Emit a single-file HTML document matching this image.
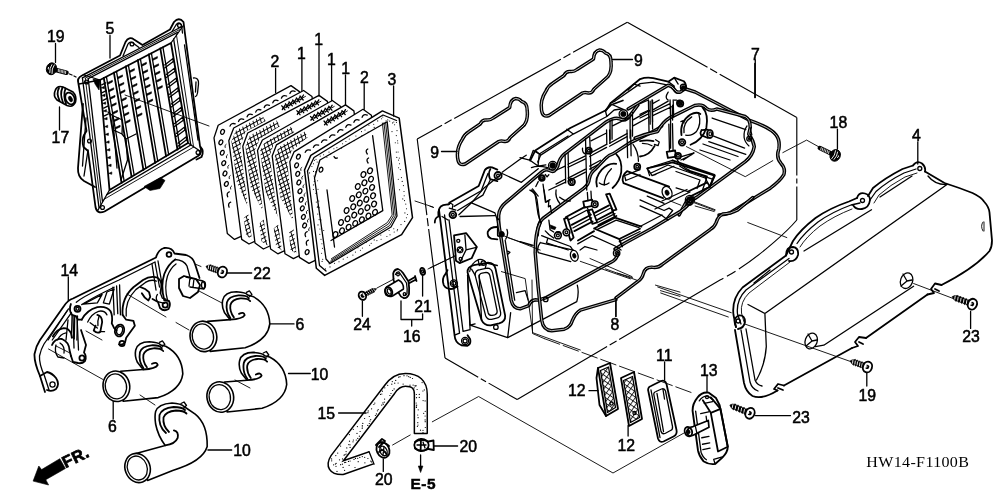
<!DOCTYPE html>
<html><head><meta charset="utf-8"><title>Air cleaner parts diagram</title>
<style>
html,body{margin:0;padding:0;background:#fff;}
body{width:1000px;height:499px;overflow:hidden;}
svg{display:block;will-change:transform}
svg path,svg circle,svg ellipse,svg line,svg polyline{vector-effect:non-scaling-stroke}
svg text{font-family:"Liberation Sans",sans-serif;font-size:15.2px;fill:#000;stroke:#000;stroke-width:.5px}
.l{fill:none;stroke:#000;stroke-width:1.3;stroke-linecap:round;stroke-linejoin:round}
.t{fill:none;stroke:#000;stroke-width:.9;stroke-linecap:round;stroke-linejoin:round}
.h{fill:none;stroke:#000;stroke-width:1.8;stroke-linecap:round;stroke-linejoin:round}
.w{fill:#fff;stroke:#000;stroke-width:1.3;stroke-linecap:round;stroke-linejoin:round}
.k{fill:#000;stroke:#000;stroke-width:.6;stroke-linejoin:round}
</style></head><body>
<svg width="1000" height="499" viewBox="0 0 1000 499">
<!-- 10_frame.svg -->
<g id="frame">
<path class="h" d="M83 104 L78 168 Q77.500 177 84 181 L95 187"/>
<path class="l" d="M86 118 L82.500 166 M88 150 L84 176"/>
<path class="h" d="M78.500 84 Q76.500 78 82 75.500 L120 55.500 L125.500 42 Q129 36 134 39.500 L142.500 45 L170 29.500 L174 22 Q179 16.500 183.500 22 L185 34 L200 146 Q203 153 198 156 L104.500 211.500 Q97 214.500 95.500 207 L88 151 L83.500 147 Q81.500 140 84 135 L86.500 131 Z"/>
<path class="l" d="M123 56 L128 44 Q130 41 133 43 L139 47.500 M172 31.500 L176 25 Q179 21 181.500 25 L182.500 33"/>
<path class="l" d="M82.4 77.9 L181.1 27.0"/>
<path class="l" d="M99.0 207.6 L82.4 77.9"/>
<path class="t" d="M85.3 78.2 L179.4 29.7"/>
<path class="t" d="M100.8 204.7 L85.3 78.2"/>
<path class="l" d="M88.2 78.6 L177.7 32.4"/>
<path class="l" d="M102.5 201.8 L88.2 78.6"/>
<path class="t" d="M176.4 34.5 L193.6 147.1"/>
<path class="t" d="M193.6 147.1 L103.9 199.4"/>
<path class="l" d="M173.6 38.8 L190.8 145.0"/>
<path class="l" d="M190.8 145.0 L106.8 194.6"/>
<path class="h" d="M100.0 80.0 L171.0 43.0 L188.0 143.0 L109.5 190.0 Z"/>
<circle class="l" cx="86.5" cy="82.0" r="1.9"/>
<circle class="l" cx="132.0" cy="44.0" r="1.9"/>
<circle class="l" cx="179.5" cy="25.5" r="1.9"/>
<circle class="l" cx="198.0" cy="152.5" r="1.9"/>
<circle class="l" cx="102.5" cy="207.5" r="1.9"/>
<circle class="l" cx="89.5" cy="141.0" r="1.9"/>
<path class="l" d="M84 75 L100 80 M79 84 L100 80 M183 26 L171 43 M200 151 L188 143 M98 210 L109.500 190"/>
<path class="k" d="M93 79 L100 80 L99 90 L95 84 Z"/>
<path class="h" d="M103.8 78.0 L121.6 182.8"/>
<path class="l" d="M106.4 76.7 L124.2 181.3"/>
<path class="k" d="M107.4 82.7 l5 -2.400 l0 1.700 l-5 2.400 z"/>
<path class="k" d="M108.7 90.2 l5 -2.400 l0 1.700 l-5 2.400 z"/>
<path class="k" d="M110.0 97.7 l5 -2.400 l0 1.700 l-5 2.400 z"/>
<path class="k" d="M111.2 105.1 l5 -2.400 l0 1.700 l-5 2.400 z"/>
<path class="k" d="M112.5 112.6 l5 -2.400 l0 1.700 l-5 2.400 z"/>
<path class="k" d="M113.8 120.1 l5 -2.400 l0 1.700 l-5 2.400 z"/>
<path class="k" d="M115.1 127.6 l5 -2.400 l0 1.700 l-5 2.400 z"/>
<path class="h" d="M113.9 72.7 L131.6 176.8"/>
<path class="l" d="M116.5 71.4 L134.2 175.3"/>
<path class="k" d="M117.5 77.3 l5 -2.400 l0 1.700 l-5 2.400 z"/>
<path class="k" d="M118.8 84.8 l5 -2.400 l0 1.700 l-5 2.400 z"/>
<path class="k" d="M120.0 92.2 l5 -2.400 l0 1.700 l-5 2.400 z"/>
<path class="k" d="M121.3 99.7 l5 -2.400 l0 1.700 l-5 2.400 z"/>
<path class="k" d="M122.6 107.1 l5 -2.400 l0 1.700 l-5 2.400 z"/>
<path class="k" d="M123.8 114.5 l5 -2.400 l0 1.700 l-5 2.400 z"/>
<path class="k" d="M125.1 122.0 l5 -2.400 l0 1.700 l-5 2.400 z"/>
<path class="h" d="M125.8 66.4 L143.4 169.8"/>
<path class="l" d="M128.4 65.1 L146.0 168.3"/>
<path class="k" d="M129.4 71.0 l5 -2.400 l0 1.700 l-5 2.400 z"/>
<path class="k" d="M130.7 78.4 l5 -2.400 l0 1.700 l-5 2.400 z"/>
<path class="k" d="M132.0 85.8 l5 -2.400 l0 1.700 l-5 2.400 z"/>
<path class="k" d="M133.2 93.2 l5 -2.400 l0 1.700 l-5 2.400 z"/>
<path class="k" d="M134.5 100.6 l5 -2.400 l0 1.700 l-5 2.400 z"/>
<path class="k" d="M135.7 108.0 l5 -2.400 l0 1.700 l-5 2.400 z"/>
<path class="k" d="M137.0 115.3 l5 -2.400 l0 1.700 l-5 2.400 z"/>
<path class="h" d="M137.8 60.2 L155.2 162.8"/>
<path class="l" d="M140.4 58.9 L157.8 161.3"/>
<path class="k" d="M141.4 64.7 l5 -2.400 l0 1.700 l-5 2.400 z"/>
<path class="k" d="M142.6 72.1 l5 -2.400 l0 1.700 l-5 2.400 z"/>
<path class="k" d="M143.9 79.4 l5 -2.400 l0 1.700 l-5 2.400 z"/>
<path class="k" d="M145.1 86.7 l5 -2.400 l0 1.700 l-5 2.400 z"/>
<path class="k" d="M146.4 94.1 l5 -2.400 l0 1.700 l-5 2.400 z"/>
<path class="k" d="M147.6 101.4 l5 -2.400 l0 1.700 l-5 2.400 z"/>
<path class="h" d="M148.8 54.4 L166.1 156.3"/>
<path class="l" d="M151.4 53.1 L168.7 154.8"/>
<path class="k" d="M152.4 58.9 l5 -2.400 l0 1.700 l-5 2.400 z"/>
<path class="k" d="M153.6 66.2 l5 -2.400 l0 1.700 l-5 2.400 z"/>
<path class="k" d="M154.9 73.5 l5 -2.400 l0 1.700 l-5 2.400 z"/>
<path class="k" d="M156.1 80.7 l5 -2.400 l0 1.700 l-5 2.400 z"/>
<path class="k" d="M157.3 88.0 l5 -2.400 l0 1.700 l-5 2.400 z"/>
<path class="h" d="M160.3 48.4 L177.5 149.6"/>
<path class="l" d="M162.9 47.1 L180.1 148.1"/>
<path class="l" d="M164.7 64.9 L173.0 58.4 L173.3 61.9"/>
<path class="l" d="M164.7 67.9 L173.0 61.7"/>
<path class="l" d="M166.3 74.6 L174.7 68.1 L175.0 71.6"/>
<path class="l" d="M166.3 77.6 L174.7 71.4"/>
<path class="l" d="M168.0 84.4 L176.3 77.9 L176.6 81.4"/>
<path class="l" d="M168.0 87.4 L176.3 81.2"/>
<path class="l" d="M169.6 94.2 L178.0 87.7 L178.3 91.2"/>
<path class="l" d="M169.6 97.2 L178.0 91.0"/>
<path class="l" d="M171.3 104.0 L179.7 97.5 L180.0 101.0"/>
<path class="l" d="M171.3 107.0 L179.7 100.8"/>
<path class="l" d="M173.0 113.8 L181.3 107.3 L181.6 110.8"/>
<path class="l" d="M173.0 116.8 L181.3 110.6"/>
<path class="l" d="M174.6 123.6 L183.0 117.1 L183.3 120.6"/>
<path class="l" d="M174.6 126.6 L183.0 120.4"/>
<path class="l" d="M176.3 133.4 L184.6 126.9 L184.9 130.4"/>
<path class="l" d="M176.3 136.4 L184.6 130.2"/>
<path class="l" d="M178.0 143.2 L186.3 136.7 L186.6 140.2"/>
<path class="l" d="M178.0 146.2 L186.3 140.0"/>
<path class="l" d="M184.500 45 L198 140"/>
<path class="k" d="M101.2 87.8 l3.200 -1.500 l0 2.400 z"/>
<path class="l" d="M101.7 84.8 l4 -2"/>
<path class="k" d="M101.8 95.6 l3.200 -1.500 l0 2.400 z"/>
<path class="l" d="M102.3 92.6 l4 -2"/>
<path class="k" d="M102.5 103.4 l3.200 -1.500 l0 2.400 z"/>
<path class="l" d="M103.0 100.4 l4 -2"/>
<path class="k" d="M103.2 111.1 l3.200 -1.500 l0 2.400 z"/>
<path class="l" d="M103.7 108.1 l4 -2"/>
<path class="k" d="M103.9 118.9 l3.200 -1.500 l0 2.400 z"/>
<path class="l" d="M104.4 115.9 l4 -2"/>
<path class="k" d="M104.5 126.7 l3.200 -1.500 l0 2.400 z"/>
<path class="k" d="M105.2 134.5 l3.200 -1.500 l0 2.400 z"/>
<path class="k" d="M105.9 142.3 l3.200 -1.500 l0 2.400 z"/>
<path class="k" d="M106.6 150.1 l3.200 -1.500 l0 2.400 z"/>
<path class="k" d="M107.2 157.8 l3.200 -1.500 l0 2.400 z"/>
<path class="k" d="M107.9 165.6 l3.200 -1.500 l0 2.400 z"/>
<path class="k" d="M108.6 173.4 l3.200 -1.500 l0 2.400 z"/>
<path class="l" d="M108 112 L112.500 115.500 L122.500 120 L122 134 L126 139 L127.500 160 M112.500 115.500 L117 168 M122 134 L113.500 130 M126 139 L136 134 M127.500 160 L121 180"/>
<path class="l" d="M193.500 78 Q199 77.500 198.500 84 L197.500 93 Q197 96 195.500 96.500 M196 82 L195.500 92"/>
<path class="k" d="M144 186.500 L150 190.500 L160 188.500 L165 180.500 L160.500 177.500 Z"/>
<path class="h" d="M200.500 147 Q204.500 151 201.500 157 L196.500 159.500"/>
<path class="l" d="M69.500 74 L72 75 M74 76 L76 77"/>
<path class="w" style="stroke-width:1.700" d="M55 91 Q57 85 63 87 L73 92 Q77 96 75.500 102 Q73 108 67 105.500 L57 100 Q53 96 55 91 Z"/>
<ellipse class="h" cx="70" cy="98.500" rx="4.400" ry="6.200" transform="rotate(-25 70 98.500)"/>
<ellipse class="k" cx="70.500" cy="99" rx="1.800" ry="3" transform="rotate(-25 70.500 99)"/>
<path class="h" d="M59 88 Q56 93 59.500 100.500 M62.500 87.500 Q59.500 94 63 102.500 M65.500 88.500 Q63 95 66 104"/>
<path class="l" d="M55.500 43.500 L55.500 62.500 M59.500 107 L59.500 130 M110 35.500 L110 58"/>
<path class="t" d="M125 95 L209 126"/>
</g>

<!-- 20_filter.svg -->
<g id="filter">
<defs><pattern id="hx" width="3.9" height="3.9" patternUnits="userSpaceOnUse" patternTransform="rotate(-29) skewX(-12)"><path d="M0 .5 H3.9 M.5 0 V3.9" stroke="#000" stroke-width=".95" fill="none"/></pattern></defs>
<path class="w" style="stroke-width:1.3" d="M214.0 137.9 L218.2 125.2 L291.0 85.6 L299.4 91.6 L313.0 191.6 L303.0 207.6 L234.5 239.4 L227.3 233.4 Z"/>
<ellipse class="l" cx="222.5" cy="131.9" rx="1.8" ry="2.5" transform="rotate(25 222.5 131.9)"/>
<ellipse class="l" cx="220.9" cy="142.3" rx="1.8" ry="2.5" transform="rotate(25 220.9 142.3)"/>
<path class="t" d="M226.1 144.3 q-2 .8 -1 3.2"/>
<ellipse class="l" cx="222.3" cy="152.7" rx="1.8" ry="2.5" transform="rotate(25 222.3 152.7)"/>
<path class="t" d="M227.5 154.7 q-2 .8 -1 3.2"/>
<ellipse class="l" cx="223.7" cy="163.1" rx="1.8" ry="2.5" transform="rotate(25 223.7 163.1)"/>
<path class="t" d="M228.9 165.1 q-2 .8 -1 3.2"/>
<ellipse class="l" cx="225.0" cy="173.5" rx="1.8" ry="2.5" transform="rotate(25 225.0 173.5)"/>
<path class="t" d="M230.2 175.5 q-2 .8 -1 3.2"/>
<ellipse class="l" cx="226.4" cy="183.9" rx="1.8" ry="2.5" transform="rotate(25 226.4 183.9)"/>
<path class="t" d="M231.6 185.9 q-2 .8 -1 3.2"/>
<path class="l" d="M229.3 191.8 q-3.2 1.2 -1.6 5"/>
<path class="l" d="M230.7 202.2 q-3.2 1.2 -1.6 5"/>
<path class="l" d="M230.0 126.1 q1.2 -3.6 5.2 -2.2"/>
<path class="l" d="M238.5 121.5 q1.2 -3.6 5.2 -2.2"/>
<path class="l" d="M247.1 116.8 q1.2 -3.6 5.2 -2.2"/>
<path class="l" d="M255.7 112.1 q1.2 -3.6 5.2 -2.2"/>
<path class="l" d="M264.2 107.5 q1.2 -3.6 5.2 -2.2"/>
<path class="l" d="M272.8 102.8 q1.2 -3.6 5.2 -2.2"/>
<path class="l" d="M281.4 98.2 q1.2 -3.6 5.2 -2.2"/>
<path class="l" d="M289.9 93.5 q1.2 -3.6 5.2 -2.2"/>
<path class="w" style="stroke-width:1.3" d="M228.8 140.7 L233.7 128.0 L303.6 90.5 L312.0 96.5 L325.6 196.5 L315.6 212.5 L249.0 244.0 L241.7 239.4 Z"/>
<path fill="url(#hx)" stroke="none" d="M231.4 141.2 L235.9 130.4 L262.2 115.6 L265.7 121.1 L245.3 131.8 L240.2 145.8 L247.8 206.3 L236.8 182.2 Z"/>
<path fill="url(#hx)" stroke="none" d="M248.3 214.0 L252.0 239.6 L246.1 235.6 L243.8 218.0 Z"/>
<path class="l" d="M281.8 105.8 l3.2 4 M285.3 104.8 l-3 4.8"/>
<path class="l" d="M285.5 103.8 l3.2 4 M289.0 102.8 l-3 4.8"/>
<path class="l" d="M289.1 101.8 l3.2 4 M292.6 100.8 l-3 4.8"/>
<path class="l" d="M292.7 99.9 l3.2 4 M296.2 98.9 l-3 4.8"/>
<path class="l" d="M296.4 98.0 l3.2 4 M299.9 97.0 l-3 4.8"/>
<path class="l" d="M300.0 96.0 l3.2 4 M303.5 95.0 l-3 4.8"/>
<path class="t" d="M282.4 108.8 L305.5 96.4"/>
<path class="w" style="stroke-width:1.3" d="M242.8 146.3 L247.7 133.0 L319.0 95.4 L327.4 101.4 L341.0 201.4 L331.0 217.4 L263.4 249.0 L255.0 243.0 Z"/>
<path fill="url(#hx)" stroke="none" d="M245.4 146.8 L249.9 135.4 L276.7 120.6 L280.2 126.1 L260.0 138.8 L254.9 150.0 L263.0 211.6 L250.5 186.9 Z"/>
<path fill="url(#hx)" stroke="none" d="M263.7 219.4 L267.5 245.6 L261.6 241.6 L259.2 223.4 Z"/>
<path class="l" d="M296.8 110.7 l3.2 4 M300.3 109.7 l-3 4.8"/>
<path class="l" d="M300.5 108.7 l3.2 4 M304.0 107.7 l-3 4.8"/>
<path class="l" d="M304.2 106.8 l3.2 4 M307.7 105.8 l-3 4.8"/>
<path class="l" d="M307.9 104.8 l3.2 4 M311.4 103.8 l-3 4.8"/>
<path class="l" d="M311.6 102.9 l3.2 4 M315.1 101.9 l-3 4.8"/>
<path class="l" d="M315.3 100.9 l3.2 4 M318.8 99.9 l-3 4.8"/>
<path class="t" d="M297.3 113.7 L320.9 101.3"/>
<path class="w" style="stroke-width:1.3" d="M257.5 150.5 L262.4 140.0 L332.3 100.5 L340.7 106.5 L354.3 206.5 L344.3 222.5 L277.8 253.8 L270.6 249.0 Z"/>
<path fill="url(#hx)" stroke="none" d="M260.1 151.0 L264.6 142.4 L290.9 126.8 L294.4 132.3 L274.0 143.7 L269.6 155.6 L277.5 216.7 L265.6 191.9 Z"/>
<path fill="url(#hx)" stroke="none" d="M278.2 224.5 L282.0 250.4 L276.1 246.4 L273.7 228.5 Z"/>
<path class="l" d="M310.5 116.4 l3.2 4 M314.0 115.4 l-3 4.8"/>
<path class="l" d="M314.2 114.4 l3.2 4 M317.7 113.4 l-3 4.8"/>
<path class="l" d="M317.8 112.3 l3.2 4 M321.3 111.3 l-3 4.8"/>
<path class="l" d="M321.4 110.3 l3.2 4 M324.9 109.3 l-3 4.8"/>
<path class="l" d="M325.1 108.2 l3.2 4 M328.6 107.2 l-3 4.8"/>
<path class="l" d="M328.7 106.2 l3.2 4 M332.2 105.2 l-3 4.8"/>
<path class="t" d="M311.1 119.5 L334.2 106.5"/>
<path class="w" style="stroke-width:1.3" d="M272.2 156.1 L276.4 144.9 L345.5 104.9 L353.9 110.9 L367.5 210.9 L357.5 226.9 L293.4 258.6 L285.0 253.8 Z"/>
<path fill="url(#hx)" stroke="none" d="M274.8 156.6 L278.6 147.3 L304.5 131.5 L308.0 137.0 L291.6 150.7 L287.2 161.2 L293.2 221.0 L280.2 197.1 Z"/>
<path fill="url(#hx)" stroke="none" d="M293.5 228.7 L296.5 254.1 L290.6 250.1 L289.0 232.7 Z"/>
<path class="l" d="M324.0 121.0 l3.2 4 M327.5 120.0 l-3 4.8"/>
<path class="l" d="M327.6 118.9 l3.2 4 M331.1 117.9 l-3 4.8"/>
<path class="l" d="M331.2 116.8 l3.2 4 M334.7 115.8 l-3 4.8"/>
<path class="l" d="M334.8 114.8 l3.2 4 M338.3 113.8 l-3 4.8"/>
<path class="l" d="M338.4 112.7 l3.2 4 M341.9 111.7 l-3 4.8"/>
<path class="l" d="M342.0 110.6 l3.2 4 M345.5 109.6 l-3 4.8"/>
<path class="t" d="M324.6 124.1 L347.4 110.9"/>
<path class="w" style="stroke-width:1.3" d="M289.8 161.7 L294.0 151.9 L363.0 109.3 L371.4 115.3 L385.0 215.3 L375.0 231.3 L309.0 263.4 L299.4 257.4 Z"/>
<ellipse class="l" cx="298.4" cy="156.7" rx="1.8" ry="2.5" transform="rotate(25 298.4 156.7)"/>
<ellipse class="l" cx="296.6" cy="165.3" rx="1.8" ry="2.5" transform="rotate(25 296.6 165.3)"/>
<path class="t" d="M301.8 167.3 q-2 .8 -1 3.2"/>
<ellipse class="l" cx="297.7" cy="173.9" rx="1.8" ry="2.5" transform="rotate(25 297.7 173.9)"/>
<path class="t" d="M302.9 175.9 q-2 .8 -1 3.2"/>
<ellipse class="l" cx="298.9" cy="182.5" rx="1.8" ry="2.5" transform="rotate(25 298.9 182.5)"/>
<path class="t" d="M304.1 184.5 q-2 .8 -1 3.2"/>
<ellipse class="l" cx="300.0" cy="191.1" rx="1.8" ry="2.5" transform="rotate(25 300.0 191.1)"/>
<path class="t" d="M305.2 193.1 q-2 .8 -1 3.2"/>
<ellipse class="l" cx="301.2" cy="199.7" rx="1.8" ry="2.5" transform="rotate(25 301.2 199.7)"/>
<path class="t" d="M306.4 201.7 q-2 .8 -1 3.2"/>
<ellipse class="l" cx="302.3" cy="208.3" rx="1.8" ry="2.5" transform="rotate(25 302.3 208.3)"/>
<path class="t" d="M307.5 210.3 q-2 .8 -1 3.2"/>
<ellipse class="l" cx="303.4" cy="216.9" rx="1.8" ry="2.5" transform="rotate(25 303.4 216.9)"/>
<path class="t" d="M308.6 218.9 q-2 .8 -1 3.2"/>
<ellipse class="l" cx="304.6" cy="225.5" rx="1.8" ry="2.5" transform="rotate(25 304.6 225.5)"/>
<path class="t" d="M309.8 227.5 q-2 .8 -1 3.2"/>
<path class="l" d="M307.2 231.6 q-3.2 1.2 -1.6 5"/>
<path class="l" d="M308.4 240.2 q-3.2 1.2 -1.6 5"/>
<ellipse class="l" cx="307.1" cy="252.1" rx="1.8" ry="2.5" transform="rotate(25 307.1 252.1)"/>
<path class="l" d="M305.2 152.4 q1.2 -3.6 5.2 -2.2"/>
<path class="l" d="M313.4 147.4 q1.2 -3.6 5.2 -2.2"/>
<path class="l" d="M321.5 142.4 q1.2 -3.6 5.2 -2.2"/>
<path class="l" d="M329.6 137.4 q1.2 -3.6 5.2 -2.2"/>
<path class="l" d="M337.7 132.3 q1.2 -3.6 5.2 -2.2"/>
<path class="l" d="M345.8 127.3 q1.2 -3.6 5.2 -2.2"/>
<path class="l" d="M353.9 122.3 q1.2 -3.6 5.2 -2.2"/>
<path class="l" d="M362.1 117.3 q1.2 -3.6 5.2 -2.2"/>
<path class="w" style="stroke-width:1.5" d="M310.8 155.4 L382.4 110.9 L399.2 118.1 L412.5 217.7 L401.6 234.6 L324.7 275.4 L316.3 268.2 L304.5 170.0 Z"/>
<path class="l" style="stroke-width:1.3" d="M319.9 160.0 L387.2 121.7 L397.0 216.0 L391.0 227.0 L330.0 263.5 L326.0 259.0 L314.5 178.0 Z"/>
<path class="l" d="M307.500 171 L314 157.500 L383 115 L396.500 120.500"/>
<path class="l" d="M307.500 171 L319.500 265.500 L326 271"/>
<path class="t" d="M385.6 122.2 L395.4 215.7 L389.7 225.6 L330.5 261.9"/>
<path class="t" d="M384.0 122.7 L393.8 215.4 L388.4 224.1 L331.0 260.3"/>
<path class="t" d="M382.4 123.1 L392.2 215.0 L387.2 222.7 L331.4 258.7"/>
<circle cx="314.5" cy="160.2" r="0.55" fill="#000"/>
<circle cx="320.2" cy="156.1" r="0.55" fill="#000"/>
<circle cx="323.6" cy="154.7" r="0.55" fill="#000"/>
<circle cx="329.0" cy="152.1" r="0.55" fill="#000"/>
<circle cx="333.9" cy="148.7" r="0.55" fill="#000"/>
<circle cx="336.9" cy="147.6" r="0.55" fill="#000"/>
<circle cx="342.6" cy="143.8" r="0.55" fill="#000"/>
<circle cx="345.9" cy="141.5" r="0.55" fill="#000"/>
<circle cx="349.3" cy="139.0" r="0.55" fill="#000"/>
<circle cx="355.9" cy="136.0" r="0.55" fill="#000"/>
<circle cx="361.5" cy="131.6" r="0.55" fill="#000"/>
<circle cx="365.0" cy="130.0" r="0.55" fill="#000"/>
<circle cx="368.9" cy="125.2" r="0.55" fill="#000"/>
<circle cx="373.7" cy="124.2" r="0.55" fill="#000"/>
<circle cx="377.7" cy="120.9" r="0.55" fill="#000"/>
<circle cx="381.6" cy="118.7" r="0.55" fill="#000"/>
<circle cx="382.8" cy="117.0" r="0.55" fill="#000"/>
<circle cx="387.8" cy="119.9" r="0.55" fill="#000"/>
<circle cx="389.7" cy="121.1" r="0.55" fill="#000"/>
<circle cx="396.4" cy="122.5" r="0.55" fill="#000"/>
<circle cx="393.8" cy="122.0" r="0.55" fill="#000"/>
<circle cx="394.6" cy="124.7" r="0.55" fill="#000"/>
<circle cx="397.0" cy="130.6" r="0.55" fill="#000"/>
<circle cx="396.3" cy="135.6" r="0.55" fill="#000"/>
<circle cx="397.6" cy="140.8" r="0.55" fill="#000"/>
<circle cx="397.8" cy="143.0" r="0.55" fill="#000"/>
<circle cx="398.1" cy="152.0" r="0.55" fill="#000"/>
<circle cx="399.3" cy="158.1" r="0.55" fill="#000"/>
<circle cx="398.6" cy="160.1" r="0.55" fill="#000"/>
<circle cx="399.5" cy="163.8" r="0.55" fill="#000"/>
<circle cx="400.3" cy="169.6" r="0.55" fill="#000"/>
<circle cx="401.4" cy="177.6" r="0.55" fill="#000"/>
<circle cx="402.2" cy="181.4" r="0.55" fill="#000"/>
<circle cx="403.4" cy="185.6" r="0.55" fill="#000"/>
<circle cx="404.0" cy="191.5" r="0.55" fill="#000"/>
<circle cx="404.2" cy="195.8" r="0.55" fill="#000"/>
<circle cx="404.5" cy="200.6" r="0.55" fill="#000"/>
<circle cx="405.8" cy="204.1" r="0.55" fill="#000"/>
<circle cx="406.5" cy="208.8" r="0.55" fill="#000"/>
<circle cx="407.4" cy="214.5" r="0.55" fill="#000"/>
<circle cx="406.4" cy="217.7" r="0.55" fill="#000"/>
<circle cx="404.7" cy="221.4" r="0.55" fill="#000"/>
<circle cx="401.0" cy="224.6" r="0.55" fill="#000"/>
<circle cx="397.2" cy="230.7" r="0.55" fill="#000"/>
<circle cx="397.6" cy="229.6" r="0.55" fill="#000"/>
<circle cx="394.2" cy="232.0" r="0.55" fill="#000"/>
<circle cx="390.0" cy="234.7" r="0.55" fill="#000"/>
<circle cx="386.9" cy="236.5" r="0.55" fill="#000"/>
<circle cx="381.1" cy="239.3" r="0.55" fill="#000"/>
<circle cx="376.9" cy="240.6" r="0.55" fill="#000"/>
<circle cx="371.2" cy="243.2" r="0.55" fill="#000"/>
<circle cx="369.6" cy="245.3" r="0.55" fill="#000"/>
<circle cx="362.4" cy="248.0" r="0.55" fill="#000"/>
<circle cx="360.4" cy="250.3" r="0.55" fill="#000"/>
<circle cx="355.4" cy="252.1" r="0.55" fill="#000"/>
<circle cx="352.9" cy="255.1" r="0.55" fill="#000"/>
<circle cx="347.3" cy="257.3" r="0.55" fill="#000"/>
<circle cx="343.2" cy="259.1" r="0.55" fill="#000"/>
<circle cx="339.0" cy="261.7" r="0.55" fill="#000"/>
<circle cx="334.5" cy="263.3" r="0.55" fill="#000"/>
<circle cx="330.0" cy="266.9" r="0.55" fill="#000"/>
<circle cx="325.4" cy="268.9" r="0.55" fill="#000"/>
<circle cx="313.5" cy="171.4" r="0.55" fill="#000"/>
<circle cx="314.0" cy="176.0" r="0.55" fill="#000"/>
<circle cx="314.3" cy="181.4" r="0.55" fill="#000"/>
<circle cx="313.4" cy="184.9" r="0.55" fill="#000"/>
<circle cx="313.4" cy="189.5" r="0.55" fill="#000"/>
<circle cx="315.8" cy="193.3" r="0.55" fill="#000"/>
<circle cx="316.3" cy="202.1" r="0.55" fill="#000"/>
<circle cx="317.4" cy="206.2" r="0.55" fill="#000"/>
<circle cx="317.3" cy="207.5" r="0.55" fill="#000"/>
<circle cx="317.8" cy="214.1" r="0.55" fill="#000"/>
<circle cx="319.1" cy="219.6" r="0.55" fill="#000"/>
<circle cx="318.0" cy="224.9" r="0.55" fill="#000"/>
<circle cx="319.9" cy="229.0" r="0.55" fill="#000"/>
<circle cx="319.8" cy="234.2" r="0.55" fill="#000"/>
<circle cx="321.0" cy="239.3" r="0.55" fill="#000"/>
<circle cx="321.9" cy="243.8" r="0.55" fill="#000"/>
<circle cx="322.5" cy="248.3" r="0.55" fill="#000"/>
<circle cx="321.6" cy="253.3" r="0.55" fill="#000"/>
<circle cx="322.7" cy="259.3" r="0.55" fill="#000"/>
<circle cx="322.1" cy="261.4" r="0.55" fill="#000"/>
<circle cx="309.6" cy="172.9" r="0.55" fill="#000"/>
<circle cx="311.9" cy="166.5" r="0.55" fill="#000"/>
<circle cx="313.5" cy="163.7" r="0.55" fill="#000"/>
<circle cx="316.0" cy="159.3" r="0.55" fill="#000"/>
<circle cx="317.2" cy="162.0" r="0.55" fill="#000"/>
<circle cx="326.9" cy="157.2" r="0.55" fill="#000"/>
<circle cx="330.7" cy="154.0" r="0.55" fill="#000"/>
<circle cx="341.6" cy="148.1" r="0.55" fill="#000"/>
<circle cx="349.2" cy="143.3" r="0.55" fill="#000"/>
<circle cx="354.2" cy="140.6" r="0.55" fill="#000"/>
<circle cx="362.0" cy="135.5" r="0.55" fill="#000"/>
<circle cx="368.1" cy="132.1" r="0.55" fill="#000"/>
<circle cx="374.2" cy="127.4" r="0.55" fill="#000"/>
<circle cx="386.1" cy="120.7" r="0.55" fill="#000"/>
<circle cx="392.6" cy="122.9" r="0.55" fill="#000"/>
<circle cx="392.0" cy="131.6" r="0.55" fill="#000"/>
<circle cx="395.3" cy="142.7" r="0.55" fill="#000"/>
<circle cx="396.3" cy="152.1" r="0.55" fill="#000"/>
<circle cx="396.8" cy="157.4" r="0.55" fill="#000"/>
<circle cx="398.6" cy="167.7" r="0.55" fill="#000"/>
<circle cx="398.3" cy="179.3" r="0.55" fill="#000"/>
<circle cx="399.5" cy="189.7" r="0.55" fill="#000"/>
<circle cx="402.8" cy="198.9" r="0.55" fill="#000"/>
<circle cx="404.9" cy="212.9" r="0.55" fill="#000"/>
<circle cx="393.8" cy="228.7" r="0.55" fill="#000"/>
<circle cx="389.1" cy="230.5" r="0.55" fill="#000"/>
<circle cx="380.8" cy="235.0" r="0.55" fill="#000"/>
<circle cx="374.2" cy="239.9" r="0.55" fill="#000"/>
<circle cx="366.0" cy="242.4" r="0.55" fill="#000"/>
<circle cx="357.9" cy="247.8" r="0.55" fill="#000"/>
<circle cx="350.5" cy="251.1" r="0.55" fill="#000"/>
<circle cx="341.8" cy="255.7" r="0.55" fill="#000"/>
<circle cx="332.4" cy="261.7" r="0.55" fill="#000"/>
<circle cx="329.1" cy="263.8" r="0.55" fill="#000"/>
<circle cx="315.5" cy="171.9" r="0.55" fill="#000"/>
<circle cx="317.6" cy="180.8" r="0.55" fill="#000"/>
<circle cx="318.0" cy="189.2" r="0.55" fill="#000"/>
<circle cx="318.8" cy="201.0" r="0.55" fill="#000"/>
<circle cx="319.3" cy="207.7" r="0.55" fill="#000"/>
<circle cx="320.9" cy="219.9" r="0.55" fill="#000"/>
<circle cx="323.7" cy="230.5" r="0.55" fill="#000"/>
<circle cx="323.6" cy="241.7" r="0.55" fill="#000"/>
<circle cx="324.3" cy="249.3" r="0.55" fill="#000"/>
<circle cx="325.6" cy="256.2" r="0.55" fill="#000"/>
<path class="l" d="M372.600 135.600 L382.800 210.600 L331 240.500 M334.500 247 L327 190"/>
<ellipse class="l" cx="375.0" cy="212.3" rx="2.3" ry="2.9" transform="rotate(25 375.0 212.3)"/>
<ellipse class="l" cx="368.4" cy="216.0" rx="2.3" ry="2.9" transform="rotate(25 368.4 216.0)"/>
<ellipse class="l" cx="361.8" cy="219.7" rx="2.3" ry="2.9" transform="rotate(25 361.8 219.7)"/>
<ellipse class="l" cx="355.2" cy="223.4" rx="2.3" ry="2.9" transform="rotate(25 355.2 223.4)"/>
<ellipse class="l" cx="348.6" cy="227.1" rx="2.3" ry="2.9" transform="rotate(25 348.6 227.1)"/>
<ellipse class="l" cx="342.0" cy="230.8" rx="2.3" ry="2.9" transform="rotate(25 342.0 230.8)"/>
<ellipse class="l" cx="335.4" cy="234.5" rx="2.3" ry="2.9" transform="rotate(25 335.4 234.5)"/>
<ellipse class="l" cx="374.0" cy="204.0" rx="2.3" ry="2.9" transform="rotate(25 374.0 204.0)"/>
<ellipse class="l" cx="367.4" cy="207.7" rx="2.3" ry="2.9" transform="rotate(25 367.4 207.7)"/>
<ellipse class="l" cx="360.8" cy="211.4" rx="2.3" ry="2.9" transform="rotate(25 360.8 211.4)"/>
<ellipse class="l" cx="354.2" cy="215.1" rx="2.3" ry="2.9" transform="rotate(25 354.2 215.1)"/>
<ellipse class="l" cx="347.6" cy="218.8" rx="2.3" ry="2.9" transform="rotate(25 347.6 218.8)"/>
<ellipse class="l" cx="341.0" cy="222.5" rx="2.3" ry="2.9" transform="rotate(25 341.0 222.5)"/>
<ellipse class="l" cx="373.0" cy="195.7" rx="2.3" ry="2.9" transform="rotate(25 373.0 195.7)"/>
<ellipse class="l" cx="366.4" cy="199.4" rx="2.3" ry="2.9" transform="rotate(25 366.4 199.4)"/>
<ellipse class="l" cx="359.8" cy="203.1" rx="2.3" ry="2.9" transform="rotate(25 359.8 203.1)"/>
<ellipse class="l" cx="353.2" cy="206.8" rx="2.3" ry="2.9" transform="rotate(25 353.2 206.8)"/>
<ellipse class="l" cx="346.6" cy="210.5" rx="2.3" ry="2.9" transform="rotate(25 346.6 210.5)"/>
<ellipse class="l" cx="372.0" cy="187.4" rx="2.3" ry="2.9" transform="rotate(25 372.0 187.4)"/>
<ellipse class="l" cx="365.4" cy="191.1" rx="2.3" ry="2.9" transform="rotate(25 365.4 191.1)"/>
<ellipse class="l" cx="358.8" cy="194.8" rx="2.3" ry="2.9" transform="rotate(25 358.8 194.8)"/>
<ellipse class="l" cx="352.2" cy="198.5" rx="2.3" ry="2.9" transform="rotate(25 352.2 198.5)"/>
<ellipse class="l" cx="371.0" cy="179.1" rx="2.3" ry="2.9" transform="rotate(25 371.0 179.1)"/>
<ellipse class="l" cx="364.4" cy="182.8" rx="2.3" ry="2.9" transform="rotate(25 364.4 182.8)"/>
<ellipse class="l" cx="357.8" cy="186.5" rx="2.3" ry="2.9" transform="rotate(25 357.8 186.5)"/>
<ellipse class="l" cx="370.0" cy="170.8" rx="2.3" ry="2.9" transform="rotate(25 370.0 170.8)"/>
<ellipse class="l" cx="363.4" cy="174.5" rx="2.3" ry="2.9" transform="rotate(25 363.4 174.5)"/>
<ellipse class="l" cx="321" cy="169.700" rx="1.8" ry="2.5" transform="rotate(20 321 169.700)"/>
<path class="l" d="M334 156.500 q1 2.500 3.500 1.500 M367.800 149 q-3 1.500 -0.500 5 M368.600 158 q-3 1.500 -0.500 5"/>
<path class="l" d="M275.600 68.500 L275.600 92.500 M301.900 59.500 L301.900 90.500 M319 45.500 L319 96 M331.600 65 L331.600 100.500 M345.500 75 L345.500 105 M364.200 83 L364.200 109.300 M393.600 86 L393.600 116"/>
</g>

<!-- 30_gasket9.svg -->
<g id="gasket9">
<defs><path id="g9" d="M541.5 110 Q540 100 546 91 Q548 86 553 83 L564 75.500 Q566 71 570.500 71.500 Q574 72 577 69.500 L593.500 59 Q594 51 599.500 50 Q603 50 605.500 53 Q611 54 611 62 Q612 71 608 76.500 L594 89 Q592 93.500 588.500 93 Q585 92 582.500 93 L549 115.500 Q542.500 118 541.500 110 Z"/></defs>
<use href="#g9" class="l" style="stroke-width:3.5"/>
<use href="#g9" style="fill:none;stroke:#fff;stroke-width:.8"/>
<g transform="translate(-83.8,48.5)"><use href="#g9" class="l" style="stroke-width:3.5"/>
<use href="#g9" style="fill:none;stroke:#fff;stroke-width:.8"/></g>
<path class="l" d="M612.500 59.500 L632.500 59.500 M441.500 151.500 L457 151.500"/>
</g>

<!-- 35_box.svg -->
<g id="box" style="fill:none;stroke:#000;stroke-width:1.15;stroke-linecap:butt">
<path style="stroke-dasharray:62 3 8 3 122 3 8 3 100" d="M627.300 22.200 L417.200 139"/>
<path style="stroke-dasharray:92 3 8 3 200" d="M627.300 22.200 L796.800 117.500"/>
<path style="stroke-dasharray:58 3 5 3 200" d="M796.800 117.500 L796.800 220"/>
<path style="stroke-dasharray:76 4 10 4 121 3 8 3 200" d="M796.800 220 C785 234 750 265 720 280 L517.200 399.600"/>
<path style="stroke-dasharray:33 3 6 3 100" d="M517.200 399.600 L445 358"/>
<path style="stroke-dasharray:130 3 8 3 200" d="M445 358 L417.200 139"/>
<path class="t" d="M415 201 L433 207"/>
<path class="l" d="M754.800 63.500 L754.800 97.500 M615.900 300 L615.900 316.400"/>
</g>

<!-- 40_housingA.svg -->
<g id="housingA" transform="translate(430,105) scale(0.2505)">
<!-- back wall top -->
<path class="h" d="M400 222 L420 182 L560 92 L700 22 L722 0 L770 -18"/>
<path class="l" d="M430 228 L442 200 L572 116 L706 46 L735 20 L762 16 M546 97 L572 116 M420 182 L442 200 M700 22 L706 46"/>
<path class="l" d="M405 250 Q430 240 470 250"/>
<!-- bosses -->
<circle class="k" cx="490" cy="242" r="12"/><circle class="l" cx="490" cy="242" r="17"/>
<circle class="k" cx="772" cy="36" r="11"/><circle class="l" cx="772" cy="36" r="17"/>
<!-- rim double line -->
<path class="l" style="stroke-width:3.5" d="M274 520 L274 440 Q277 410 302 390 L445 268 Q462 252 478 262 Q498 274 510 244 Q516 212 536 196 L700 70 Q738 46 758 56 Q782 68 800 40 L830 0"/>
<path style="fill:none;stroke:#fff;stroke-width:.7" d="M274 520 L274 440 Q277 410 302 390 L445 268 Q462 252 478 262 Q498 274 510 244 Q516 212 536 196 L700 70 Q738 46 758 56 Q782 68 800 40 L830 0"/>
<!-- gasket 8 top section -->
<path class="l" style="stroke-width:3.5" d="M428 520 Q430 470 452 452 L612 334 Q634 318 636 294 Q640 270 662 254 L700 214 Q712 200 732 194 L800 150 L890 106 Q912 96 925 84"/>
<path style="fill:none;stroke:#fff;stroke-width:.7" d="M428 520 Q430 470 452 452 L612 334 Q634 318 636 294 Q640 270 662 254 L700 214 Q712 200 732 194 L800 150 L890 106 Q912 96 925 84"/>
</g>

<!-- 41_housingB.svg -->
<g id="housingB" transform="translate(430,225) scale(0.2505)">
<!-- left flange edges -->
<path class="h" d="M36 -60 L98 440 Q100 470 125 480 L150 482 Q165 475 160 455 L150 440"/>
<path class="l" d="M58 -40 L118 432 M76 -20 L132 425 M132 425 L160 418 L150 200 M98 440 L118 432"/>
<circle class="l" cx="140" cy="463" r="8"/><circle class="l" cx="140" cy="463" r="14"/>
<path class="h" d="M62 195 Q45 215 55 240 Q65 258 90 255 L110 245 M62 195 L70 180"/>
<circle class="l" cx="95" cy="233" r="8"/><circle class="l" cx="95" cy="233" r="14"/>
<!-- rect port -->
<path class="h" d="M150 190 Q148 166 175 160 L232 150 Q256 150 262 176 L300 362 Q302 386 276 393 L242 401 Q216 402 206 380 Z"/>
<path class="l" d="M180 200 Q180 180 200 178 L228 172 Q246 172 250 192 L282 350 Q284 368 266 372 L246 377 Q228 378 222 362 Z"/>
<path class="l" d="M196 208 Q196 194 208 192 L224 189 Q236 189 239 202 L268 344 Q269 356 258 359 L248 361 Q236 362 232 350 Z"/>
<path class="l" d="M206 380 L196 200 M166 176 L180 200"/>
<circle class="l" cx="213" cy="152" r="9"/><circle class="l" cx="263" cy="408" r="9"/>
<path class="l" d="M150 200 L160 400 L310 450 L586 306 Q596 270 588 240 M310 450 L322 350 M160 400 L180 395"/>
<!-- rim double line left -->
<path class="l" style="stroke-width:3.5" d="M272 -20 L280 30 L324 300 Q332 336 362 334 L394 322 Q404 294 432 300 L464 290 L720 150 Q748 138 750 112"/>
<path style="fill:none;stroke:#fff;stroke-width:.7" d="M272 -20 L280 30 L324 300 Q332 336 362 334 L394 322 Q404 294 432 300 L464 290 L720 150 Q748 138 750 112"/>
<path class="l" d="M300 60 L338 300 M345 270 L380 262 L392 300"/>
<circle class="k" cx="287" cy="38" r="10"/>
<circle class="l" cx="745" cy="112" r="13"/><circle class="l" cx="745" cy="112" r="6"/>
<circle class="l" cx="462" cy="297" r="9"/>
<!-- gasket 8 left-bottom -->
<path class="l" style="stroke-width:3.5" d="M440 -10 Q420 30 420 110 L432 250 L446 380 Q452 420 486 422 L536 416 Q560 408 568 382 Q580 352 600 340 L742 298"/>
<path style="fill:none;stroke:#fff;stroke-width:.7" d="M440 -10 Q420 30 420 110 L432 250 L446 380 Q452 420 486 422 L536 416 Q560 408 568 382 Q580 352 600 340 L742 298"/>
<path class="l" d="M742 300 L742 365"/>
<!-- tube -->
<path class="l" d="M440 70 L572 100 M432 110 L562 146 M440 70 Q425 90 432 110"/>
<ellipse class="w" cx="576" cy="123" rx="15" ry="22" transform="rotate(-15 576 123)"/><ellipse class="k" cx="576" cy="123" rx="7" ry="10" transform="rotate(-15 576 123)"/>
<circle class="l" cx="512" cy="38" r="11"/><circle class="l" cx="512" cy="38" r="5"/><circle class="l" cx="546" cy="31" r="11"/><circle class="l" cx="546" cy="31" r="5"/>
<!-- thin leader lines -->
<path class="t" d="M292 42 L440 100 M285 186 L380 214 L410 430 L600 499"/>
<!-- interior -->
<path class="t" d="M600 145 L800 215 M700 175 L830 222 M900 240 L998 268 M920 262 L998 285"/>
</g>

<!-- 42_housingC.svg -->
<g id="housingC" transform="translate(620,90) scale(0.2505)">
<!-- outer loop -->
<path class="l" style="stroke-width:3.5" d="M250 -8 L300 8 L515 120 Q600 150 622 178 Q640 200 634 236 Q622 268 642 292 Q662 312 654 338 Q640 362 600 392 L440 490 Q420 499 395 499"/>
<path style="fill:none;stroke:#fff;stroke-width:.7" d="M250 -8 L300 8 L515 120 Q600 150 622 178 Q640 200 634 236 Q622 268 642 292 Q662 312 654 338 Q640 362 600 392 L440 490 Q420 499 395 499"/>
<!-- inner loop -->
<path class="l" style="stroke-width:3.5" d="M60 192 Q100 176 150 166 Q168 130 200 110 L298 62 Q330 54 346 74 Q362 86 386 76 L500 106 Q520 116 520 150 L514 176 Q532 200 536 226 Q530 262 500 286 L310 426 Q290 442 268 440 L236 499"/>
<path style="fill:none;stroke:#fff;stroke-width:.7" d="M60 192 Q100 176 150 166 Q168 130 200 110 L298 62 Q330 54 346 74 Q362 86 386 76 L500 106 Q520 116 520 150 L514 176 Q532 200 536 226 Q530 262 500 286 L310 426 Q290 442 268 440 L236 499"/>
<!-- tube -->
<path class="h" d="M28 324 L196 386 M14 372 L172 432 M28 324 Q2 344 14 372"/>
<ellipse class="w" cx="188" cy="410" rx="19" ry="26" transform="rotate(-20 188 410)"/><ellipse class="k" cx="188" cy="410" rx="8" ry="11" transform="rotate(-20 188 410)"/>

<!-- leader lines -->
<path class="t" d="M265 226 L500 346 L610 282 M650 250 L745 200 L792 226 M280 440 L380 478"/>
<path class="l" d="M540 -120 L540 30 M868 156 L868 236"/>
</g>

<!-- 43_housingD.svg -->
<g id="housingD" transform="translate(620,200) scale(0.2505)">
<!-- gasket 8 lower right -->
<path class="l" style="stroke-width:3.5" d="M530 -10 L470 40 Q440 56 410 56 Q390 66 384 90 Q378 108 360 118 L170 256 Q150 274 126 268 Q100 268 94 292 Q88 316 70 326 L-16 391"/>
<path style="fill:none;stroke:#fff;stroke-width:.7" d="M530 -10 L470 40 Q440 56 410 56 Q390 66 384 90 Q378 108 360 118 L170 256 Q150 274 126 268 Q100 268 94 292 Q88 316 70 326 L-16 391"/>
<!-- housing rim lower right -->
<path class="l" style="stroke-width:3.5" d="M290 -6 Q272 26 240 46 L130 112 L20 172 L-20 196"/>
<path style="fill:none;stroke:#fff;stroke-width:.7" d="M290 -6 Q272 26 240 46 L130 112 L20 172 L-20 196"/>
<circle class="l" cx="276" cy="8" r="13"/>
<!-- thin lines -->
<path class="t" d="M300 24 L376 46 M510 90 L666 150 M-10 292 L50 310"/>
</g>

<!-- 44_housingE.svg -->
<g id="housingE" transform="translate(580,60) scale(0.2004)">
<path class="h" d="M130 252 L152 215 L300 95 Q330 84 365 90 L440 108 L470 88 L518 106 Q532 120 526 140"/>
<path class="l" d="M160 222 L216 246 M240 150 L270 120 L300 130 M440 108 L470 130 L470 150 M470 88 L490 120 M152 215 L175 205 L300 118 L365 110 L440 125"/>
<path class="l" style="stroke-width:3.5" d="M240 244 L440 126 Q460 130 470 146 Q482 166 500 160 L520 146"/>
<path style="fill:none;stroke:#fff;stroke-width:.7" d="M240 244 L440 126 Q460 130 470 146 Q482 166 500 160 L520 146"/>
<circle class="k" cx="516" cy="136" r="9"/><circle class="l" cx="516" cy="136" r="15"/>
<circle class="l" cx="496" cy="213" r="13"/><circle class="l" cx="496" cy="213" r="6"/>
<path class="l" d="M440 160 Q420 190 440 200 M470 200 L482 200 M462 225 L462 300 M452 235 L452 440"/>
<path class="l" d="M350 205 L350 320 M362 200 L362 310 M250 270 L250 390 M262 262 L262 380 M150 300 L150 400 M160 295 L160 395 M262 300 L350 250 M262 330 L350 282 M362 250 L440 205 M160 330 L250 285"/>
</g>

<!-- 45_interior.svg -->
<g id="interior">
<path class="h" d="M672.500 160.400 L714.500 174.900 L709.700 186.900"/>
<path class="l" d="M668 165 L706.500 178.500 L702.500 190 M648 168 L672.500 160.400 M651 173 L668 165 M709.700 186.900 L702.500 190 M676 171.500 L700 180 L697 188.500"/>
<path class="l" d="M662 201 L687 189.500 M655 209 L690 192 M640 226.500 L662 215 M700 150 L730 160 M703 144 L738 156.500"/>
</g>

<!-- 46_T1.svg -->
<g id="T1" transform="translate(520,130) scale(0.12024)">
<!-- top-left block -->
<path class="l" d="M110 170 L80 250 L150 300 L215 290 M80 250 L0 230 M110 170 L160 200 L150 300 M160 200 L400 50"/>
<!-- vertical ribs -->
<path class="l" d="M375 200 L380 440 M400 190 L405 430 M545 70 L555 499 M580 60 L590 330 M720 0 L722 120 M745 0 L748 110 M890 0 L895 230 M920 0 L924 215"/>
<!-- diagonal ribs -->
<path class="l" d="M300 335 L375 300 M400 285 L545 215 M400 310 L545 240 M400 400 L545 325 M400 425 L545 350 M580 195 L720 120 M580 220 L720 145 M580 300 L670 252 M580 325 L650 288 M745 110 L890 30 M745 135 L890 55 M300 450 L375 410 M240 499 L375 435 M590 90 L720 25"/>
<!-- bosses -->
<circle class="h" cx="572" cy="172" r="25"/><circle class="l" cx="572" cy="172" r="11"/>
<circle class="h" cx="430" cy="432" r="27"/><circle class="l" cx="430" cy="432" r="12"/>
<circle class="h" cx="975" cy="305" r="25"/><circle class="l" cx="975" cy="305" r="11"/>
<circle class="l" cx="182" cy="396" r="18"/>
<path class="l" d="M520 150 Q515 190 545 200 M210 370 L225 390 L240 372"/>
<!-- big port arcs -->
<path class="h" d="M640 470 Q618 400 680 330 Q740 270 800 282 M800 200 Q852 250 842 350 Q830 430 770 482"/>
<path class="l" d="M700 460 Q700 380 760 322 M660 440 Q700 470 740 440 M940 120 Q985 180 985 260"/>
<path class="l" d="M870 380 L998 330 M870 380 L880 420 L998 372"/>
</g>

<!-- 46_U.svg -->
<g id="U" transform="translate(430,160) scale(0.12024)">
<path class="h" d="M160 356 L405 216 L455 86 Q475 54 516 62 L560 80"/>
<path class="l" d="M200 386 L426 256 L482 112 M230 420 L440 292 L500 168"/>
<path class="h" d="M502 76 Q480 112 500 160 L560 176"/>
<circle class="w" style="stroke-width:1.800" cx="566" cy="130" r="30"/><circle class="l" cx="566" cy="130" r="12"/>
<path class="l" d="M600 102 L740 0 L800 -40 M600 112 L760 186 L900 72 M345 356 L450 232 L600 112 M345 356 L540 440 L560 499 M250 470 L540 462 M240 456 L345 356"/>
<path class="h" d="M70 470 Q62 392 110 376 L160 366 M40 520 Q40 480 70 470"/>
<circle class="w" style="stroke-width:1.800" cx="190" cy="456" r="28"/><circle class="l" cx="190" cy="456" r="12"/>
<path class="l" d="M160 400 L215 416 M150 372 Q170 350 190 372 L186 400 M100 470 L150 499"/>
<path class="l" d="M830 250 Q880 270 890 330 L912 499 M852 240 L900 300 M940 200 L960 350 L998 330 M900 180 L880 220"/>
<circle class="h" cx="930" cy="150" r="24"/><circle class="l" cx="930" cy="150" r="10"/>
<path class="t" d="M0 385 L30 395"/>
</g>

<!-- 46_V.svg -->
<g id="V" transform="translate(430,215) scale(0.12024)">
<path class="h" d="M200 170 L300 150 L390 266 L346 360 L246 400 L216 380 Z"/>
<path class="l" d="M290 166 L300 290 L246 400 M300 290 L386 270"/>
<circle class="l" cx="235" cy="215" r="13"/><circle class="k" cx="250" cy="290" r="27"/><circle class="l" cx="255" cy="365" r="13"/>
<path d="M236 278 L264 302 M262 276 L240 304" stroke="#fff" stroke-width="1" fill="none"/>
<path class="h" d="M556 100 Q500 100 480 140 Q474 182 510 196 L560 202"/>
<circle class="k" cx="596" cy="156" r="20"/>
<path class="l" d="M640 120 Q655 160 630 200 M645 300 L665 310 L650 325"/>
<path class="t" d="M0 440 L215 336 M650 190 L850 256"/>
<path class="l" d="M330 470 Q340 400 400 372 Q440 360 470 400 L560 420 M400 372 L410 420 L440 410 M470 400 L460 440"/>
</g>

<!-- 47_T2.svg -->
<g id="T2" transform="translate(640,100) scale(0.12024)">
<!-- big port -->
<path class="h" d="M345 292 Q328 180 420 120 Q470 94 502 116 M520 62 Q572 120 552 230 Q522 330 420 372"/>
<path class="l" d="M366 272 Q354 190 430 140 M490 120 Q512 200 470 262 Q430 302 380 292 M340 180 L360 172 L365 190"/>
<!-- bosses -->
<circle class="h" cx="350" cy="352" r="27"/><circle class="l" cx="350" cy="352" r="12"/>
<circle class="h" cx="335" cy="30" r="25"/><circle class="l" cx="335" cy="30" r="11"/>
<!-- small cylinder -->
<path class="h" d="M512 250 L565 246 M508 292 L565 316 M512 250 Q498 272 508 292"/>
<ellipse class="h" cx="582" cy="282" rx="24" ry="34"/><ellipse class="l" cx="584" cy="282" rx="11" ry="17"/>
<path class="l" d="M600 150 L880 246 M612 300 L870 400 M572 346 L880 452"/>
<!-- vertical post -->
<path class="l" d="M240 200 L245 420 M270 196 L275 416"/>
<path class="h" d="M222 432 L292 420 L300 470 L232 482 Z"/>
<circle class="h" cx="316" cy="464" r="25"/><circle class="l" cx="316" cy="464" r="11"/>
<path class="l" d="M345 470 L450 440 L360 499 M340 499 L430 455"/>
<!-- left port partial -->
<path class="h" d="M0 342 Q60 330 112 342 M0 470 Q80 462 122 382"/>
<path class="l" d="M130 330 L160 350 L150 380 L120 370 M20 360 Q70 360 100 380"/>
<!-- top-left ribs -->
<path class="l" d="M70 0 L75 262 M100 0 L105 242 M0 120 L70 85 M0 150 L70 115 M105 100 L250 30 M105 130 L262 56 M250 0 L255 150 M276 0 L280 140 M0 30 L70 0 M105 30 L160 0"/>
<!-- rim clip boss right -->
<path class="l" d="M890 216 Q860 260 866 312 Q872 352 906 382 M916 230 L930 290"/>
<circle class="k" cx="908" cy="322" r="10"/><circle class="l" cx="908" cy="322" r="20"/>
</g>

<!-- 48_T3.svg -->
<g id="T3" transform="translate(520,190) scale(0.12024)">
<!-- left wall -->
<path class="l" d="M95 0 L125 30 L150 200 L172 272 M200 0 L215 100 L240 90 L236 140 L252 130 L262 190 M300 0 Q290 60 330 110 M330 60 Q380 100 420 90"/>
<!-- steps long lines -->
<path class="h" d="M380 226 L540 140 M430 290 L590 206 M452 342 L604 262 M620 190 L740 128 M640 250 L774 180 M652 292 L802 216"/>
<path class="l" d="M400 250 L555 168 M440 316 L596 232 M630 214 L750 152 M646 270 L790 196"/>
<!-- ribs (upright parallelograms) -->
<path class="h" d="M366 240 L396 232 L446 396 L420 420 Z M562 172 L600 160 L642 270 L602 282 Z M716 36 L746 30 L802 164 L772 172 Z"/>
<!-- boss block -->
<path class="h" d="M526 96 L600 80 L610 130 L536 146 Z"/>
<circle class="w" style="stroke-width:1.600" cx="622" cy="118" r="27"/><circle class="l" cx="622" cy="118" r="12"/>
<path class="l" d="M560 20 L565 90 M590 10 L594 82 M560 150 L585 200"/>
<!-- twin bosses -->
<circle class="w" style="stroke-width:1.600" cx="315" cy="378" r="28"/><circle class="l" cx="315" cy="378" r="12"/>
<circle class="w" style="stroke-width:1.600" cx="386" cy="352" r="28"/><circle class="l" cx="386" cy="352" r="12"/>
<path class="k" d="M250 290 L300 310 L290 330 L255 320 Z"/>
<path class="l" d="M240 250 L250 330 L280 350 M210 340 L240 370 L280 400"/>
<!-- pads -->
<path class="h" d="M616 320 L790 230 L1010 305 M616 320 L826 408 L998 322 M482 420 L616 342 M826 408 L850 470 M790 230 L760 150"/>
<path class="l" d="M640 330 L800 250 L990 312 M480 448 L600 380 L800 470 L840 499 M826 430 L998 345 M500 499 L540 470 L640 499"/>
<!-- lower-left -->
<path class="l" d="M0 430 L110 460 M180 380 L232 400 L420 470 L440 499 M232 400 L220 440 L400 499"/>
</g>

<!-- 49_T4.svg -->
<g id="T4" transform="translate(640,160) scale(0.12024)">
<path class="h" d="M270 20 L622 130 L582 222 M60 70 L270 20 M400 262 L560 186 L582 222 L424 300"/>
<path class="l" d="M330 50 Q400 100 452 110 L602 160 M310 0 Q350 60 420 90 L560 136 M70 82 L100 130 L282 52 M100 130 L132 120 M60 70 L80 130 M300 232 L400 262 M560 186 L540 140"/>
<path class="l" d="M0 332 L200 420 L242 400 M0 382 L180 460 L232 499 M242 400 L272 420 L222 482 M60 300 L200 360"/>
<circle class="l" cx="415" cy="332" r="38"/><circle class="h" cx="415" cy="332" r="22"/><circle class="k" cx="415" cy="332" r="9"/>
<path class="t" d="M250 340 L340 376 M452 356 L622 420"/>
</g>

<!-- 50_cover.svg -->
<g id="cover">
<!-- silhouette -->
<path class="h" d="M736 327 L733.500 315 Q731.500 299 742.500 287.500 L786 255.500 L793 241 Q800 230 815.500 218 Q830 208 849 201.500 L857 198 M868 196 L873 188 Q885 178 902.500 169 L913 165.500 M925 171.500 L944.500 183 Q960 188 972.500 193 Q981 197 984 201.500 Q989 207 989.500 212.500 L992 240.500 Q992 247 989.500 251 Q975 268 941.500 285 M927.500 294.500 L866 338 M852 348 L784 385.500 M777.500 390.500 Q762 400 752.500 396 Q746 392 744 383 L735 330"/>
<!-- rim parallels -->
<path class="l" d="M741 324 L737.500 314 Q736 300 746 290 L789 258.500 M797 243.500 Q804 233 818 222 Q832 212 851 205 L860 203 M870 200 L876 191.500 Q888 181 904 173 L916 169"/>
<path class="t" d="M744 322 L741.500 313 Q740 302 749 293 L790 262 M800 247 Q806 237 820 226 Q834 216 852 209 M874 203 L879 195 Q890 185 905 177 L917 173"/>
<path class="l" d="M741 330 L750 382 Q752 389 758 391 M746 329 L755 380 Q757 385 762 386"/>
<!-- lugs -->
<path class="h" d="M913 165.500 Q917 160 922 163.500 Q926 167 925 171.500 M857 198 Q859 192 865 193.500 Q870 195 870 200 Q869 208 862 209 Q856 210 853 205 M786 255.500 Q786 247 793 247 Q799 248 798 255 Q796 262 789 261 M736 327 Q732 318 739 315.500 Q745 315 745 322 Q744 328 738 329"/>
<circle class="l" cx="919.800" cy="168.500" r="2"/><circle class="l" cx="862.500" cy="200.500" r="2"/><circle class="l" cx="791.500" cy="252" r="2"/><circle class="l" cx="738.200" cy="321" r="2"/>
<!-- creases -->
<path class="l" d="M947 184.500 L764.900 313.500 L748 304.500 M764.900 313.500 L766.300 346.600 Q765 365 756.500 380 M871.500 209.800 L804 251 M928 176 Q935 185 947 184.500 M770 270 L754 283 M912 176 L880 197"/>
<!-- inner panel -->
<path class="l" d="M913.600 286.300 L823.800 345.200 L815.400 346.600"/>
<ellipse class="l" cx="906.600" cy="280.700" rx="6" ry="8" transform="rotate(20 906.600 280.700)"/>
<path class="l" d="M903 274 L907 281 L901 286 M907 281 L912 280"/>
<ellipse class="l" cx="811.200" cy="341" rx="6" ry="8" transform="rotate(20 811.200 341)"/>
<path class="l" d="M808 334 L812 341 L806 346 M812 341 L817 340"/>
<!-- clips -->
<path class="h" d="M941.500 285 L935 283.500 L931 289 L934 293 L927.500 294.500 M935 289 L939 291 M866 338 L859 337 L855 342 L858 346 L852 348 M859 342 L863 344 M784 385.500 L778 384 L774 389 L777.500 390.500 M778 388 L783 390"/>
<path class="t" d="M983 222 Q980 226 983 231 M984 222 L984 231"/>
<!-- leader lines -->
<path class="t" d="M913.600 283.500 L954.500 299 M745.300 324.200 L851.900 362 M657.700 287 L731.300 312.700 M660.700 293 L728.300 317 M590 258.500 L632 276.600"/>
<path class="l" d="M917.800 142 L917.800 164 M970.600 311.500 L970.600 328.400 M866.800 372.500 L866.800 386 M755.400 415.600 L790.500 415.600 M707 376.500 L707 393"/>
</g>

<!-- 60_small.svg -->
<g id="small">
<defs><pattern id="hx2" width="4.4" height="4.4" patternUnits="userSpaceOnUse" patternTransform="rotate(35)"><path d="M0 .5 H4.4 M.5 0 V4.4" stroke="#000" stroke-width=".8" fill="none"/></pattern></defs>
<!-- part 12 left -->
<path class="h" d="M598 368 L610 363 L618 409 L606 416 Z"/>
<path class="l" fill="url(#hx2)" style="fill:url(#hx2)" d="M600.500 370.500 L608.500 367 L615.500 407.500 L607.500 412.500 Z"/>
<path class="h" d="M598 368 L596.500 378 L599.500 405 L606 416"/>
<circle class="l" cx="611.500" cy="403.500" r="1.6"/>
<!-- part 12 right -->
<path class="h" d="M621 378 L634 372 L642 419 L629 426 Z"/>
<path class="l" style="fill:url(#hx2)" d="M623.500 380.500 L632.500 376.500 L639.500 417.500 L630.500 422.500 Z"/>
<circle class="l" cx="634.500" cy="413" r="1.600"/>
<!-- part 11 -->
<path class="h" d="M648.500 392 Q647 387.500 651 386 L661 381 Q665 379.500 666.500 384 L676.500 430 Q677.500 434.500 673.500 436.500 L663.500 441.500 Q659.500 443 658 438.500 Z"/>
<path class="l" d="M654 395.500 Q653 392.500 656 391.500 L661.500 389 Q664.500 388 665.500 391 L672.500 426.500 Q673 429.500 670.500 430.500 L665 433.500 Q662 434.500 661 431.500 Z"/>
<path class="l" d="M651 390 L660 437.500 M657 393.500 L663.500 431.500 M663 389.500 L664.500 399"/>
<!-- part 13 -->
<g transform="translate(670,380) scale(0.1805)">
<path class="w" style="stroke-width:1.900" d="M150 100 Q175 65 215 70 L255 100 L275 140 L320 370 Q320 400 290 430 L250 465 Q215 470 185 450 Q160 420 155 390 L125 170 Q125 130 150 100 Z"/>
<path class="l" d="M162 116 Q182 86 212 90 L240 112 M142 172 L172 400 Q182 430 202 442 M250 465 L242 440 L290 426"/>
<path class="h" d="M226 182 L280 160 L320 370 L266 396 Z M182 112 L226 182 M226 96 L280 160"/>
<path class="l" d="M190 130 L236 120 M170 186 L214 176 M176 320 L216 312 M180 356 L220 348 M182 386 L222 378 M200 200 L204 230"/>
<circle class="l" cx="205" cy="95" r="8"/>
<path class="w" style="stroke-width:1.700" d="M212 224 L128 258 Q96 262 92 290 Q100 318 128 306 L216 262 Z"/>
<ellipse class="h" cx="102" cy="286" rx="20" ry="27" transform="rotate(-20 102 286)"/><ellipse class="k" cx="102" cy="286" rx="9" ry="13" transform="rotate(-20 102 286)"/>
<path class="l" d="M140 254 L150 298"/>
</g>
<!-- dashed centre line -->
<path class="t" style="stroke-dasharray:17 3;stroke-linecap:butt" d="M544 338.500 L694 393.500"/>
<path class="t" d="M532 280 L532.500 333.500 L544 338.500"/>
<!-- hose connection polyline -->
<path class="t" d="M432.300 421.800 L478.600 396.500 L613 473 L684 433"/>
<!-- leaders -->
<path class="l" d="M589 390.700 L598 390.700 M664.600 362 L664.600 380 M628.100 425.500 L628.100 436"/>
</g>

<!-- 70_tubes.svg -->
<g id="tubes">
<path class="h" d="M45 392 L40 376 Q34 362 34.500 354 Q36 346 40 340 L64 306 Q68 300 73 298.500 L156 257.500 Q158 250 164 248 Q172 247 174.500 253.500 L186 255 Q193 257 195 264 L199.500 278"/>
<path class="l" d="M49 390 L44.500 376 Q39 364 39.500 356 Q41 349 44 344 L67 311 M175 259.500 Q184 260 187 266 L190.500 279"/>
<path class="h" d="M164.300 300 Q160.300 286 164.300 274 Q168.300 264 175.300 259.500"/>
<path class="l" d="M167.500 300 Q164 287 167.500 276 Q170.500 268 176 264"/>
<path class="l" d="M152 264 L156 290 M155 262.500 L159.500 287 M158 261 L162 284"/>
<path class="h" d="M152.500 299 L158 302 L160 308 Q164 312 168.500 309 Q171 305 169 301 L164.300 300"/>
<path class="h" d="M71 356 L73 362 L78 363 Q82 364 85 361 Q87 356 84 352.500 L86 345 L81 330"/>
<path class="h" d="M52 345 Q55 338 62 339 Q69 342 69.500 350 L71 356"/>
<path class="l" d="M56 345 Q54 352 58 357 L64 358 M60 343 Q65 346 64 353 M73 316 L74 348 M77 316 L78.500 350 M68 320 L66 340"/>
<circle class="h" cx="169" cy="254.500" r="2.400"/><circle class="h" cx="165.200" cy="305" r="2.600"/><circle class="h" cx="122" cy="343.500" r="2.600"/><circle class="h" cx="82" cy="358" r="2.600"/>
<path class="h" d="M40 376 L47 372 Q52 373 56 378 Q60 384 56 389 Q52 392 47 390"/>
<circle class="l" cx="52.500" cy="384.500" r="2.600"/>
<path class="h" d="M179 279 L184 276 L196 279 L200 285 L198 292 L190 298 L183 296 L179 288 Z"/>
<path class="l" d="M186 277 L203 281 Q206 284 204 289 L190 287 M190 277.500 L189 286 M194 278.500 L193 287.500"/>
<ellipse class="l" cx="203.500" cy="285" rx="2" ry="3.500"/>
<g transform="translate(30,280) scale(0.12024)">
<path class="l" d="M150 499 L320 240 M185 499 L345 272"/>
<path class="l" d="M385 185 Q440 140 580 75 L740 0 L1040 -150 M430 205 Q500 160 620 100 L700 60"/>
<circle class="h" cx="395" cy="240" r="25"/><circle class="l" cx="395" cy="240" r="12"/>
<path class="h" d="M340 200 Q320 250 350 290 L380 300 L400 330 L430 330"/>
<path class="h" d="M430 330 Q470 250 560 225 Q640 215 670 260 Q690 300 680 360 L700 400 L720 420"/>
<path class="l" d="M480 350 Q510 280 570 260 Q620 250 640 290"/>
<path class="h" d="M560 290 Q600 300 600 350 L585 430 Q560 450 530 420 L545 380"/>
<path class="l" d="M620 430 L585 430 M500 355 L560 400 M575 300 Q560 340 565 380"/>
<path class="l" d="M445 200 L600 120 L560 190 Z M640 100 L700 75 L660 200 L610 190 Z"/>
<path class="l" d="M690 60 L700 290 M720 50 L730 280 M745 40 L752 290"/>
<path class="h" d="M770 290 Q760 150 860 60 L940 0 Q1000 -40 1060 -20 Q1100 10 1092 60 L1085 110"/>
<path class="l" d="M800 300 Q790 170 880 80 L960 20 Q1010 -10 1050 10"/>
<ellipse class="h" cx="745" cy="420" rx="38" ry="50" transform="rotate(15 745 420)"/><ellipse class="l" cx="745" cy="420" rx="24" ry="35" transform="rotate(15 745 420)"/>
<path class="h" d="M770 290 L800 330 L860 340 L872 380 L800 480 L790 520 Q770 545 740 535"/>
<path class="h" d="M190 470 Q220 410 280 400 Q320 400 340 440 L350 480"/>
<path class="l" d="M230 499 Q250 450 300 440 M350 290 L345 480 M395 300 L390 499 M372 298 L368 490"/>
<path class="h" d="M920 60 Q960 70 990 100 L1000 140 L985 170 M930 110 Q950 150 985 170"/>
<path class="l" d="M1085 110 L1100 150 L1130 160 M1060 120 Q1040 150 1060 180 L1120 195"/>
</g>

<g transform="translate(220.3,397.0)">
<path class="w" style="stroke-width:1.6" d="M4.300 -15 L26.800 -16.800 Q24 -20 21 -24 Q18 -30 19.300 -36.300 Q21.300 -44.600 33 -44.600 Q42.600 -44 44.300 -41.300 L49.300 -40 Q65.600 -31.300 66.400 -12.500 Q64.400 3.800 41.800 11.300 L6.800 15 Z"/>
<path class="h" d="M26.800 -16.800 Q39.300 -17.500 41.300 -21.300 Q40.600 -25 35.600 -22.500"/>
<path class="h" d="M45.500 -38.300 Q43 -41.300 35 -41 Q25 -40 23.500 -34 Q22 -25 27 -18.300 M46.800 -35.300 Q44 -38.300 37 -38 Q28.500 -37 27 -31.500 Q26 -25 30.500 -19"/>
<path class="l" d="M43 -44 L46 -45.500 L48.500 -42 L46 -40"/>
<ellipse class="w" style="stroke-width:1.6" cx="0" cy="0" rx="13.300" ry="15.300" transform="rotate(-12)"/>
<ellipse class="l" cx="-0.500" cy="0" rx="10.600" ry="12.600" transform="rotate(-12)"/>
</g>
<g transform="translate(203.4,336.4)">
<path class="w" style="stroke-width:1.6" d="M4.300 -15 L26.800 -16.800 Q24 -20 21 -24 Q18 -30 19.300 -36.300 Q21.300 -44.600 33 -44.600 Q42.600 -44 44.300 -41.300 L49.300 -40 Q65.600 -31.300 66.400 -12.500 Q64.400 3.800 41.800 11.300 L6.800 15 Z"/>
<path class="h" d="M26.800 -16.800 Q39.300 -17.500 41.300 -21.300 Q40.600 -25 35.600 -22.500"/>
<path class="h" d="M45.500 -38.300 Q43 -41.300 35 -41 Q25 -40 23.500 -34 Q22 -25 27 -18.300 M46.800 -35.300 Q44 -38.300 37 -38 Q28.500 -37 27 -31.500 Q26 -25 30.500 -19"/>
<path class="l" d="M43 -44 L46 -45.500 L48.500 -42 L46 -40"/>
<ellipse class="w" style="stroke-width:1.6" cx="0" cy="0" rx="13.300" ry="15.300" transform="rotate(-12)"/>
<ellipse class="l" cx="-0.500" cy="0" rx="10.600" ry="12.600" transform="rotate(-12)"/>
</g>
<path class="w" style="stroke-width:1.600" d="M135.100 453.700 L165.200 445.400 Q158 436 155.600 424 Q154.500 416 155.600 411.600 Q158 404 172 403 Q181 403.500 184 406.500 L195.200 414.100 Q207.700 424.100 207.200 446.600 Q202.700 461.700 172.700 470.400 L147.600 480.500 Z"/>
<path class="h" d="M165.200 445.400 Q175.200 444.100 177.700 437.900 Q178.900 431.600 173.900 430.400"/>
<path class="h" d="M185 410 Q182 407 173.500 407 Q162 408 159.500 415 Q158 426 166 433 M186.500 413.500 Q183.500 410.500 176 410.500 Q165.500 411.500 163.500 417.500 Q162.500 426 169 432"/>
<path class="l" d="M181 403.500 L184 402 L186.500 405.500 L184 407.500"/>
<ellipse class="w" style="stroke-width:1.600" cx="137.600" cy="468" rx="12.500" ry="14.800" transform="rotate(-20 137.600 468)"/>
<ellipse class="l" cx="137.300" cy="468" rx="9.800" ry="12.200" transform="rotate(-20 137.300 468)"/>
<g transform="translate(116.4,386.3)">
<path class="w" style="stroke-width:1.6" d="M4.300 -15 L26.800 -16.800 Q24 -20 21 -24 Q18 -30 19.300 -36.300 Q21.300 -44.600 33 -44.600 Q42.600 -44 44.300 -41.300 L49.300 -40 Q65.600 -31.300 66.400 -12.500 Q64.400 3.800 41.800 11.300 L6.800 15 Z"/>
<path class="h" d="M26.800 -16.800 Q39.300 -17.500 41.300 -21.300 Q40.600 -25 35.600 -22.500"/>
<path class="h" d="M45.500 -38.300 Q43 -41.300 35 -41 Q25 -40 23.500 -34 Q22 -25 27 -18.300 M46.800 -35.300 Q44 -38.300 37 -38 Q28.500 -37 27 -31.500 Q26 -25 30.500 -19"/>
<path class="l" d="M43 -44 L46 -45.500 L48.500 -42 L46 -40"/>
<ellipse class="w" style="stroke-width:1.6" cx="0" cy="0" rx="13.300" ry="15.300" transform="rotate(-12)"/>
<ellipse class="l" cx="-0.500" cy="0" rx="10.600" ry="12.600" transform="rotate(-12)"/>
</g>
<path class="t" d="M127 294 L166 317 M176 322.500 L189 330 M86 331 L102 340 M56 346 L70 353 M199 291 L222 303 M140 395 L155 405 M235 380 L250 388 M195 264 L201 266.500"/>
<path class="t" d="M48.500 349 L103 379.500"/>
<path class="l" d="M68.300 277 L68.300 300.600 M226.700 273 L251.700 273 M113.200 401.400 L113.200 419 M207.900 450 L231.700 450 M270.200 323.900 L294 323.900 M288.500 373.500 L310.300 373.500 M362.400 301.300 L362.400 316.300"/>
</g>

<!-- 80_hose.svg -->
<g id="hose">
<g transform="translate(300,370) scale(0.22046)">
<path d="M548 288 L548 110 Q548 45 478 45 Q435 45 405 90 L165 405 Q140 445 190 445 L324 398" style="fill:none;stroke:#000;stroke-width:14.4;stroke-linejoin:round;stroke-linecap:butt"/>
<path d="M548 290 L548 110 Q548 45 478 45 Q435 45 405 90 L165 405 Q140 445 190 445 L326 397.3" style="fill:none;stroke:#fff;stroke-width:11.4;stroke-linejoin:round;stroke-linecap:butt"/>
<path class="l" d="M519 288 L577 288 M313 370 L336 427"/>
</g>
<circle cx="423.0" cy="432.5" r="0.62" fill="#000"/>
<circle cx="423.0" cy="430.3" r="0.62" fill="#000"/>
<circle cx="420.5" cy="430.2" r="0.62" fill="#000"/>
<circle cx="425.3" cy="427.5" r="0.62" fill="#000"/>
<circle cx="417.4" cy="426.3" r="0.62" fill="#000"/>
<circle cx="418.0" cy="425.0" r="0.62" fill="#000"/>
<circle cx="417.8" cy="422.7" r="0.62" fill="#000"/>
<circle cx="425.2" cy="421.7" r="0.62" fill="#000"/>
<circle cx="425.1" cy="419.9" r="0.62" fill="#000"/>
<circle cx="418.1" cy="417.7" r="0.62" fill="#000"/>
<circle cx="425.1" cy="416.0" r="0.62" fill="#000"/>
<circle cx="417.7" cy="415.0" r="0.62" fill="#000"/>
<circle cx="423.7" cy="413.3" r="0.62" fill="#000"/>
<circle cx="425.2" cy="411.3" r="0.62" fill="#000"/>
<circle cx="418.2" cy="409.8" r="0.62" fill="#000"/>
<circle cx="416.4" cy="407.4" r="0.62" fill="#000"/>
<circle cx="416.4" cy="405.9" r="0.62" fill="#000"/>
<circle cx="416.7" cy="405.1" r="0.62" fill="#000"/>
<circle cx="416.2" cy="403.0" r="0.62" fill="#000"/>
<circle cx="425.1" cy="400.9" r="0.62" fill="#000"/>
<circle cx="423.1" cy="400.6" r="0.62" fill="#000"/>
<circle cx="416.5" cy="397.7" r="0.62" fill="#000"/>
<circle cx="419.3" cy="397.4" r="0.62" fill="#000"/>
<circle cx="419.3" cy="394.4" r="0.62" fill="#000"/>
<circle cx="416.4" cy="394.5" r="0.62" fill="#000"/>
<circle cx="422.9" cy="391.0" r="0.62" fill="#000"/>
<circle cx="424.3" cy="389.9" r="0.62" fill="#000"/>
<circle cx="417.1" cy="389.5" r="0.62" fill="#000"/>
<circle cx="414.2" cy="387.8" r="0.62" fill="#000"/>
<circle cx="415.8" cy="386.1" r="0.62" fill="#000"/>
<circle cx="422.1" cy="382.6" r="0.62" fill="#000"/>
<circle cx="416.0" cy="385.5" r="0.62" fill="#000"/>
<circle cx="414.9" cy="385.8" r="0.62" fill="#000"/>
<circle cx="413.1" cy="385.1" r="0.62" fill="#000"/>
<circle cx="412.5" cy="378.5" r="0.62" fill="#000"/>
<circle cx="410.0" cy="385.2" r="0.62" fill="#000"/>
<circle cx="410.2" cy="377.4" r="0.62" fill="#000"/>
<circle cx="408.7" cy="376.6" r="0.62" fill="#000"/>
<circle cx="407.0" cy="375.8" r="0.62" fill="#000"/>
<circle cx="404.0" cy="375.7" r="0.62" fill="#000"/>
<circle cx="403.1" cy="384.1" r="0.62" fill="#000"/>
<circle cx="400.0" cy="376.7" r="0.62" fill="#000"/>
<circle cx="398.7" cy="377.2" r="0.62" fill="#000"/>
<circle cx="398.1" cy="383.0" r="0.62" fill="#000"/>
<circle cx="395.7" cy="380.4" r="0.62" fill="#000"/>
<circle cx="394.7" cy="383.2" r="0.62" fill="#000"/>
<circle cx="392.3" cy="381.6" r="0.62" fill="#000"/>
<circle cx="391.8" cy="384.2" r="0.62" fill="#000"/>
<circle cx="394.1" cy="388.9" r="0.62" fill="#000"/>
<circle cx="387.7" cy="385.3" r="0.62" fill="#000"/>
<circle cx="392.6" cy="390.5" r="0.62" fill="#000"/>
<circle cx="384.8" cy="387.8" r="0.62" fill="#000"/>
<circle cx="391.0" cy="393.5" r="0.62" fill="#000"/>
<circle cx="389.9" cy="395.5" r="0.62" fill="#000"/>
<circle cx="382.4" cy="391.2" r="0.62" fill="#000"/>
<circle cx="381.8" cy="394.0" r="0.62" fill="#000"/>
<circle cx="380.5" cy="394.4" r="0.62" fill="#000"/>
<circle cx="384.6" cy="399.1" r="0.62" fill="#000"/>
<circle cx="384.3" cy="402.2" r="0.62" fill="#000"/>
<circle cx="382.9" cy="402.9" r="0.62" fill="#000"/>
<circle cx="383.2" cy="404.3" r="0.62" fill="#000"/>
<circle cx="381.7" cy="405.1" r="0.62" fill="#000"/>
<circle cx="374.8" cy="403.1" r="0.62" fill="#000"/>
<circle cx="373.9" cy="404.5" r="0.62" fill="#000"/>
<circle cx="378.2" cy="409.6" r="0.62" fill="#000"/>
<circle cx="377.4" cy="410.8" r="0.62" fill="#000"/>
<circle cx="371.6" cy="408.8" r="0.62" fill="#000"/>
<circle cx="376.4" cy="413.9" r="0.62" fill="#000"/>
<circle cx="375.4" cy="415.5" r="0.62" fill="#000"/>
<circle cx="368.2" cy="410.9" r="0.62" fill="#000"/>
<circle cx="367.9" cy="412.7" r="0.62" fill="#000"/>
<circle cx="369.3" cy="416.5" r="0.62" fill="#000"/>
<circle cx="370.7" cy="419.6" r="0.62" fill="#000"/>
<circle cx="370.0" cy="421.0" r="0.62" fill="#000"/>
<circle cx="364.6" cy="418.5" r="0.62" fill="#000"/>
<circle cx="369.3" cy="423.5" r="0.62" fill="#000"/>
<circle cx="367.8" cy="425.4" r="0.62" fill="#000"/>
<circle cx="362.8" cy="423.4" r="0.62" fill="#000"/>
<circle cx="362.3" cy="425.5" r="0.62" fill="#000"/>
<circle cx="362.3" cy="426.9" r="0.62" fill="#000"/>
<circle cx="362.2" cy="428.5" r="0.62" fill="#000"/>
<circle cx="357.4" cy="426.6" r="0.62" fill="#000"/>
<circle cx="360.1" cy="431.5" r="0.62" fill="#000"/>
<circle cx="353.3" cy="429.3" r="0.62" fill="#000"/>
<circle cx="357.0" cy="433.4" r="0.62" fill="#000"/>
<circle cx="359.4" cy="436.2" r="0.62" fill="#000"/>
<circle cx="357.8" cy="438.4" r="0.62" fill="#000"/>
<circle cx="349.4" cy="434.6" r="0.62" fill="#000"/>
<circle cx="356.3" cy="440.0" r="0.62" fill="#000"/>
<circle cx="353.4" cy="440.0" r="0.62" fill="#000"/>
<circle cx="353.0" cy="441.8" r="0.62" fill="#000"/>
<circle cx="349.5" cy="441.2" r="0.62" fill="#000"/>
<circle cx="350.0" cy="444.8" r="0.62" fill="#000"/>
<circle cx="348.8" cy="444.6" r="0.62" fill="#000"/>
<circle cx="350.1" cy="447.4" r="0.62" fill="#000"/>
<circle cx="346.8" cy="447.9" r="0.62" fill="#000"/>
<circle cx="340.6" cy="446.1" r="0.62" fill="#000"/>
<circle cx="346.1" cy="451.6" r="0.62" fill="#000"/>
<circle cx="346.1" cy="454.0" r="0.62" fill="#000"/>
<circle cx="345.0" cy="454.6" r="0.62" fill="#000"/>
<circle cx="344.1" cy="455.2" r="0.62" fill="#000"/>
<circle cx="337.7" cy="453.1" r="0.62" fill="#000"/>
<circle cx="342.5" cy="458.9" r="0.62" fill="#000"/>
<circle cx="335.8" cy="455.6" r="0.62" fill="#000"/>
<circle cx="339.5" cy="459.8" r="0.62" fill="#000"/>
<circle cx="331.6" cy="458.9" r="0.62" fill="#000"/>
<circle cx="331.7" cy="460.8" r="0.62" fill="#000"/>
<circle cx="335.4" cy="464.1" r="0.62" fill="#000"/>
<circle cx="333.6" cy="464.8" r="0.62" fill="#000"/>
<circle cx="336.1" cy="463.4" r="0.62" fill="#000"/>
<circle cx="336.0" cy="466.3" r="0.62" fill="#000"/>
<circle cx="337.0" cy="471.4" r="0.62" fill="#000"/>
<circle cx="340.6" cy="464.7" r="0.62" fill="#000"/>
<circle cx="342.4" cy="464.2" r="0.62" fill="#000"/>
<circle cx="343.1" cy="467.4" r="0.62" fill="#000"/>
<circle cx="344.6" cy="470.3" r="0.62" fill="#000"/>
<circle cx="344.6" cy="462.6" r="0.62" fill="#000"/>
<circle cx="345.7" cy="462.4" r="0.62" fill="#000"/>
<circle cx="349.1" cy="465.3" r="0.62" fill="#000"/>
<circle cx="348.5" cy="461.4" r="0.62" fill="#000"/>
<circle cx="350.1" cy="461.0" r="0.62" fill="#000"/>
<circle cx="355.0" cy="467.5" r="0.62" fill="#000"/>
<circle cx="354.0" cy="459.4" r="0.62" fill="#000"/>
<circle cx="355.5" cy="458.4" r="0.62" fill="#000"/>
<circle cx="358.2" cy="461.7" r="0.62" fill="#000"/>
<circle cx="357.7" cy="458.3" r="0.62" fill="#000"/>
<circle cx="359.8" cy="457.4" r="0.62" fill="#000"/>
<circle cx="362.3" cy="456.6" r="0.62" fill="#000"/>
<circle cx="364.9" cy="462.8" r="0.62" fill="#000"/>
<circle cx="364.7" cy="457.3" r="0.62" fill="#000"/>
<circle cx="367.9" cy="458.5" r="0.62" fill="#000"/>
<circle cx="370.7" cy="461.1" r="0.62" fill="#000"/>
<circle cx="371.5" cy="461.9" r="0.62" fill="#000"/>
<ellipse class="h" cx="421.500" cy="445" rx="7.200" ry="6" />
<path class="h" d="M415 442 Q421 438 428.500 441.500 L433.500 440.500 L433.800 450 L428.500 449 M415 448.500 Q421 452.500 428.500 449 M421 439 L420.600 451"/>
<path class="l" d="M417 445 L426 445 M423 442 L425 448"/>
<path class="l" d="M420.600 455 L420.600 468"/><path class="k" d="M418.300 466 L422.900 466 L420.600 472.500 Z"/>
<ellipse class="h" cx="383" cy="450" rx="6.200" ry="8" transform="rotate(-25 383 450)"/>
<path class="h" d="M376 445 L382 439 L385 441 L379 447 M377 444 Q383 440 389 446 M379 452 Q383 447 387 455"/>
<ellipse class="l" cx="383.500" cy="451" rx="3.400" ry="5" transform="rotate(-25 383.500 451)"/>
<path class="l" d="M381 449 L386 453 M384 447 L383 455"/>
<path class="t" d="M392.600 445 L410.200 435"/>
<path class="h" d="M393.200 273.500 Q394 269.500 398 269 Q401 270 403 273 L408.500 281.500 Q409.500 288 409 294 Q407.500 298.500 403.500 298 Q400.500 297 399 293.500 L393.500 280 Z"/>
<path class="l" d="M395.500 274.500 Q396.500 271.500 399 272 L406.500 283 Q407.500 289 407 293.500 Q406 296 403.500 295.500"/>
<circle class="l" cx="398" cy="274.500" r="1.300"/><circle class="l" cx="404.500" cy="294" r="1.300"/>
<path class="w" style="stroke-width:1.500" d="M398.500 280 L386.500 287 Q383.500 291 386 295 Q389 297.500 392.500 296 L403.500 289 Q404 283 398.500 280 Z"/>
<ellipse class="h" cx="388.800" cy="291.500" rx="3.300" ry="4.600" transform="rotate(-25 388.800 291.500)"/>
<ellipse class="l" cx="389.200" cy="291.500" rx="1.700" ry="2.800" transform="rotate(-25 389.200 291.500)"/>
<path class="h" d="M409 280.500 L415 277 M409.500 283 L416 279.500 M415 276 L416.500 281"/>
<ellipse class="h" cx="422.600" cy="271.400" rx="2.300" ry="3.600" transform="rotate(-15 422.600 271.400)"/>
<ellipse class="l" cx="422.600" cy="271.400" rx="0.900" ry="1.600" transform="rotate(-15 422.600 271.400)"/>
<path class="t" d="M377 288 L394 279 M428 269 L455 256"/>
<path class="l" d="M401 301 L401 319.500 L422.600 319.500 L422.600 314 M411.700 319.500 L411.700 326 M422.600 276 L422.600 296"/>
<path class="l" d="M338.600 413 L366.100 413 M434 446 L457.600 446 M383.300 459 L383.300 471.400"/>
<path class="k" d="M33.100 481.100 L38.800 466 L41.600 469.600 L59.800 458.700 L65.400 468.500 L45.800 479.700 L48.600 485 Z"/>
<text x="65.600" y="468.200" transform="rotate(-26 65.600 468.200)" style="font-weight:bold;font-size:16.500px;stroke-width:.7px;letter-spacing:.3px">FR.</text>
</g>

<!-- 85_bolts.svg -->
<g id="bolts">
<g transform="translate(835.2,155.4) rotate(-154.3)">
<path d="M4.5 0 L17.0 0" stroke="#000" stroke-width="4.6" stroke-linecap="round" fill="none"/>
<path d="M6.7 -1.6 l0.700 3.0" stroke="#fff" stroke-width="0.800" fill="none"/>
<path d="M8.4 -1.6 l0.700 3.0" stroke="#fff" stroke-width="0.800" fill="none"/>
<path d="M10.2 -1.6 l0.700 3.0" stroke="#fff" stroke-width="0.800" fill="none"/>
<path d="M11.9 -1.6 l0.700 3.0" stroke="#fff" stroke-width="0.800" fill="none"/>
<path d="M13.7 -1.6 l0.700 3.0" stroke="#fff" stroke-width="0.800" fill="none"/>
<path d="M15.4 -1.6 l0.700 3.0" stroke="#fff" stroke-width="0.800" fill="none"/>
<ellipse cx="0" cy="0" rx="5.1" ry="6.0" fill="#000" stroke="#000" stroke-width="1"/>
<path d="M1.800 -4.8 Q0 0 1.800 4.8 M-0.600 -4.5 Q-2.200 0 -0.600 4.5" stroke="#fff" stroke-width="0.900" fill="none"/>
<path d="M-2.800 -1.200 Q-4.200 0 -2.800 1.300" stroke="#fff" stroke-width="1" fill="none"/>
</g>
<g transform="translate(51.5,68.8) rotate(14.7)">
<path d="M4.5 0 L15.5 0" stroke="#000" stroke-width="4.6" stroke-linecap="round" fill="none"/>
<path d="M6.7 -1.6 l0.700 3.0" stroke="#fff" stroke-width="0.800" fill="none"/>
<path d="M8.2 -1.6 l0.700 3.0" stroke="#fff" stroke-width="0.800" fill="none"/>
<path d="M9.7 -1.6 l0.700 3.0" stroke="#fff" stroke-width="0.800" fill="none"/>
<path d="M11.2 -1.6 l0.700 3.0" stroke="#fff" stroke-width="0.800" fill="none"/>
<path d="M12.7 -1.6 l0.700 3.0" stroke="#fff" stroke-width="0.800" fill="none"/>
<path d="M14.2 -1.6 l0.700 3.0" stroke="#fff" stroke-width="0.800" fill="none"/>
<ellipse cx="0" cy="0" rx="5.1" ry="6.0" fill="#000" stroke="#000" stroke-width="1"/>
<path d="M1.800 -4.8 Q0 0 1.800 4.8 M-0.600 -4.5 Q-2.200 0 -0.600 4.5" stroke="#fff" stroke-width="0.900" fill="none"/>
<path d="M-2.800 -1.200 Q-4.200 0 -2.800 1.300" stroke="#fff" stroke-width="1" fill="none"/>
</g>
<g transform="translate(972.4,304.2) rotate(-159.4)">
<path class="k" d="M4.1 -3.2 L6.3 -2.1 L7.2 -3.2 L9.4 -2.1 L10.3 -3.2 L12.5 -2.1 L13.4 -3.2 L15.6 -2.1 L16.5 -3.2 L18.7 -2.1 L19.6 -1.9 L21.6 0.0 L19.6 1.9 L18.7 2.1 L16.5 3.2 L15.6 2.1 L13.4 3.2 L12.5 2.1 L10.3 3.2 L9.4 2.1 L7.2 3.2 L6.3 2.1 L4.1 3.2 Z"/>
<path d="M5.8 -1.8 l0.800 3.6" stroke="#fff" stroke-width="0.900" fill="none"/>
<path d="M8.9 -1.8 l0.800 3.6" stroke="#fff" stroke-width="0.900" fill="none"/>
<path d="M12.0 -1.8 l0.800 3.6" stroke="#fff" stroke-width="0.900" fill="none"/>
<path d="M15.1 -1.8 l0.800 3.6" stroke="#fff" stroke-width="0.900" fill="none"/>
<path d="M18.2 -1.8 l0.800 3.6" stroke="#fff" stroke-width="0.900" fill="none"/>
<ellipse cx="0" cy="0" rx="4.5" ry="5.5" fill="#fff" stroke="#000" stroke-width="1.900"/>
<path class="l" d="M1 -1.500 Q-1.500 -1.500 -1 0 Q-1.500 1.500 1 1.500 M-1 0 L0.500 0"/>
</g>
<g transform="translate(867.5,367.0) rotate(-160.3)">
<path class="k" d="M4.1 -3.2 L5.8 -2.1 L6.6 -3.2 L8.3 -2.1 L9.0 -3.2 L10.7 -2.1 L11.5 -3.2 L13.2 -2.1 L13.9 -3.2 L15.6 -2.1 L16.4 -1.9 L18.4 0.0 L16.4 1.9 L15.6 2.1 L13.9 3.2 L13.2 2.1 L11.5 3.2 L10.7 2.1 L9.0 3.2 L8.3 2.1 L6.6 3.2 L5.8 2.1 L4.1 3.2 Z"/>
<path d="M5.5 -1.8 l0.800 3.6" stroke="#fff" stroke-width="0.900" fill="none"/>
<path d="M7.9 -1.8 l0.800 3.6" stroke="#fff" stroke-width="0.900" fill="none"/>
<path d="M10.4 -1.8 l0.800 3.6" stroke="#fff" stroke-width="0.900" fill="none"/>
<path d="M12.8 -1.8 l0.800 3.6" stroke="#fff" stroke-width="0.900" fill="none"/>
<path d="M15.3 -1.8 l0.800 3.6" stroke="#fff" stroke-width="0.900" fill="none"/>
<ellipse cx="0" cy="0" rx="4.5" ry="5.5" fill="#fff" stroke="#000" stroke-width="1.900"/>
<path class="l" d="M1 -1.500 Q-1.500 -1.500 -1 0 Q-1.500 1.500 1 1.500 M-1 0 L0.500 0"/>
</g>
<g transform="translate(750.0,413.3) rotate(-157.7)">
<path class="k" d="M4.1 -3.2 L6.3 -2.1 L7.3 -3.2 L9.5 -2.1 L10.4 -3.2 L12.6 -2.1 L13.6 -3.2 L15.8 -2.1 L16.7 -3.2 L18.9 -2.1 L19.8 -1.9 L21.8 0.0 L19.8 1.9 L18.9 2.1 L16.7 3.2 L15.8 2.1 L13.6 3.2 L12.6 2.1 L10.4 3.2 L9.5 2.1 L7.3 3.2 L6.3 2.1 L4.1 3.2 Z"/>
<path d="M5.9 -1.8 l0.800 3.6" stroke="#fff" stroke-width="0.900" fill="none"/>
<path d="M9.0 -1.8 l0.800 3.6" stroke="#fff" stroke-width="0.900" fill="none"/>
<path d="M12.1 -1.8 l0.800 3.6" stroke="#fff" stroke-width="0.900" fill="none"/>
<path d="M15.3 -1.8 l0.800 3.6" stroke="#fff" stroke-width="0.900" fill="none"/>
<path d="M18.4 -1.8 l0.800 3.6" stroke="#fff" stroke-width="0.900" fill="none"/>
<ellipse cx="0" cy="0" rx="4.5" ry="5.5" fill="#fff" stroke="#000" stroke-width="1.900"/>
<path class="l" d="M1 -1.500 Q-1.500 -1.500 -1 0 Q-1.500 1.500 1 1.500 M-1 0 L0.500 0"/>
</g>
<g transform="translate(222.4,272.0) rotate(-160.8)">
<path class="k" d="M4.1 -3.2 L5.7 -2.1 L6.4 -3.2 L7.9 -2.1 L8.6 -3.2 L10.2 -2.1 L10.9 -3.2 L12.4 -2.1 L13.1 -3.2 L14.7 -2.1 L15.4 -1.9 L17.4 0.0 L15.4 1.9 L14.7 2.1 L13.1 3.2 L12.4 2.1 L10.9 3.2 L10.2 2.1 L8.6 3.2 L7.9 2.1 L6.4 3.2 L5.7 2.1 L4.1 3.2 Z"/>
<path d="M5.4 -1.8 l0.800 3.6" stroke="#fff" stroke-width="0.900" fill="none"/>
<path d="M7.6 -1.8 l0.800 3.6" stroke="#fff" stroke-width="0.900" fill="none"/>
<path d="M9.9 -1.8 l0.800 3.6" stroke="#fff" stroke-width="0.900" fill="none"/>
<path d="M12.1 -1.8 l0.800 3.6" stroke="#fff" stroke-width="0.900" fill="none"/>
<path d="M14.4 -1.8 l0.800 3.6" stroke="#fff" stroke-width="0.900" fill="none"/>
<ellipse cx="0" cy="0" rx="4.5" ry="5.5" fill="#fff" stroke="#000" stroke-width="1.900"/>
<path class="l" d="M1 -1.500 Q-1.500 -1.500 -1 0 Q-1.500 1.500 1 1.500 M-1 0 L0.500 0"/>
</g>
<g transform="translate(362.4,295.8) rotate(-26.7)">
<path class="k" d="M3.2 -2.4 L4.7 -1.3 L5.3 -2.4 L6.8 -1.3 L7.4 -2.4 L8.9 -1.3 L9.6 -2.4 L11.0 -1.3 L11.7 -2.4 L13.2 -1.3 L13.8 -1.1 L15.8 0.0 L13.8 1.1 L13.2 1.3 L11.7 2.4 L11.0 1.3 L9.6 2.4 L8.9 1.3 L7.4 2.4 L6.8 1.3 L5.3 2.4 L4.7 1.3 L3.2 2.4 Z"/>
<path d="M4.4 -1.0 l0.800 2.0" stroke="#fff" stroke-width="0.900" fill="none"/>
<path d="M6.5 -1.0 l0.800 2.0" stroke="#fff" stroke-width="0.900" fill="none"/>
<path d="M8.6 -1.0 l0.800 2.0" stroke="#fff" stroke-width="0.900" fill="none"/>
<path d="M10.7 -1.0 l0.800 2.0" stroke="#fff" stroke-width="0.900" fill="none"/>
<path d="M12.8 -1.0 l0.800 2.0" stroke="#fff" stroke-width="0.900" fill="none"/>
<ellipse cx="0" cy="0" rx="3.5" ry="4.3" fill="#fff" stroke="#000" stroke-width="1.900"/>
<path class="l" d="M1 -1.500 Q-1.500 -1.500 -1 0 Q-1.500 1.500 1 1.500 M-1 0 L0.500 0"/>
</g>
</g>

<!-- 95_labels.svg -->
<g id="labels">
<text transform="translate(46.9,42.4) scale(1.04,1.075)">19</text>
<text transform="translate(105.4,34.4) scale(1.04,1.075)">5</text>
<text transform="translate(51.6,142.8) scale(1.04,1.075)">17</text>
<text transform="translate(270.6,67.1) scale(1.04,1.075)">2</text>
<text transform="translate(297.1,58.8) scale(1.04,1.075)">1</text>
<text transform="translate(314.3,45.1) scale(1.04,1.075)">1</text>
<text transform="translate(326.9,64.5) scale(1.04,1.075)">1</text>
<text transform="translate(341.2,74.4) scale(1.04,1.075)">1</text>
<text transform="translate(360.0,82.5) scale(1.04,1.075)">2</text>
<text transform="translate(387.5,85.4) scale(1.04,1.075)">3</text>
<text transform="translate(634.0,65.8) scale(1.04,1.075)">9</text>
<text transform="translate(430.3,157.8) scale(1.04,1.075)">9</text>
<text transform="translate(751.0,60.2) scale(1.04,1.075)">7</text>
<text transform="translate(829.6,128.4) scale(1.04,1.075)">18</text>
<text transform="translate(912.0,141.0) scale(1.04,1.075)">4</text>
<text transform="translate(610.6,329.8) scale(1.04,1.075)">8</text>
<text transform="translate(962.3,342.1) scale(1.04,1.075)">23</text>
<text transform="translate(858.5,401.0) scale(1.04,1.075)">19</text>
<text transform="translate(792.3,423.4) scale(1.04,1.075)">23</text>
<text transform="translate(699.9,375.8) scale(1.04,1.075)">13</text>
<text transform="translate(656.1,361.4) scale(1.04,1.075)">11</text>
<text transform="translate(567.9,395.5) scale(1.04,1.075)">12</text>
<text transform="translate(617.4,451.3) scale(1.04,1.075)">12</text>
<text transform="translate(60.5,276.4) scale(1.04,1.075)">14</text>
<text transform="translate(253.2,278.8) scale(1.04,1.075)">22</text>
<text transform="translate(108.0,432.2) scale(1.04,1.075)">6</text>
<text transform="translate(233.3,456.0) scale(1.04,1.075)">10</text>
<text transform="translate(295.5,330.4) scale(1.04,1.075)">6</text>
<text transform="translate(310.7,379.8) scale(1.04,1.075)">10</text>
<text transform="translate(353.2,330.4) scale(1.04,1.075)">24</text>
<text transform="translate(317.4,419.2) scale(1.04,1.075)">15</text>
<text transform="translate(459.5,451.8) scale(1.04,1.075)">20</text>
<text transform="translate(375.0,485.1) scale(1.04,1.075)">20</text>
<text transform="translate(414.2,312.3) scale(1.04,1.075)">21</text>
<text transform="translate(402.9,342.4) scale(1.04,1.075)">16</text>
<text x="410.500" y="489.300" style="font-weight:bold;font-size:15.400px;letter-spacing:.5px">E-5</text>
<text transform="translate(866.300,467.300) scale(1.17,1)" style="font-family:'Liberation Serif',serif;font-size:13.700px;stroke:none;letter-spacing:.3px">HW14-F1100B</text>
</g>

</svg>
</body></html>
